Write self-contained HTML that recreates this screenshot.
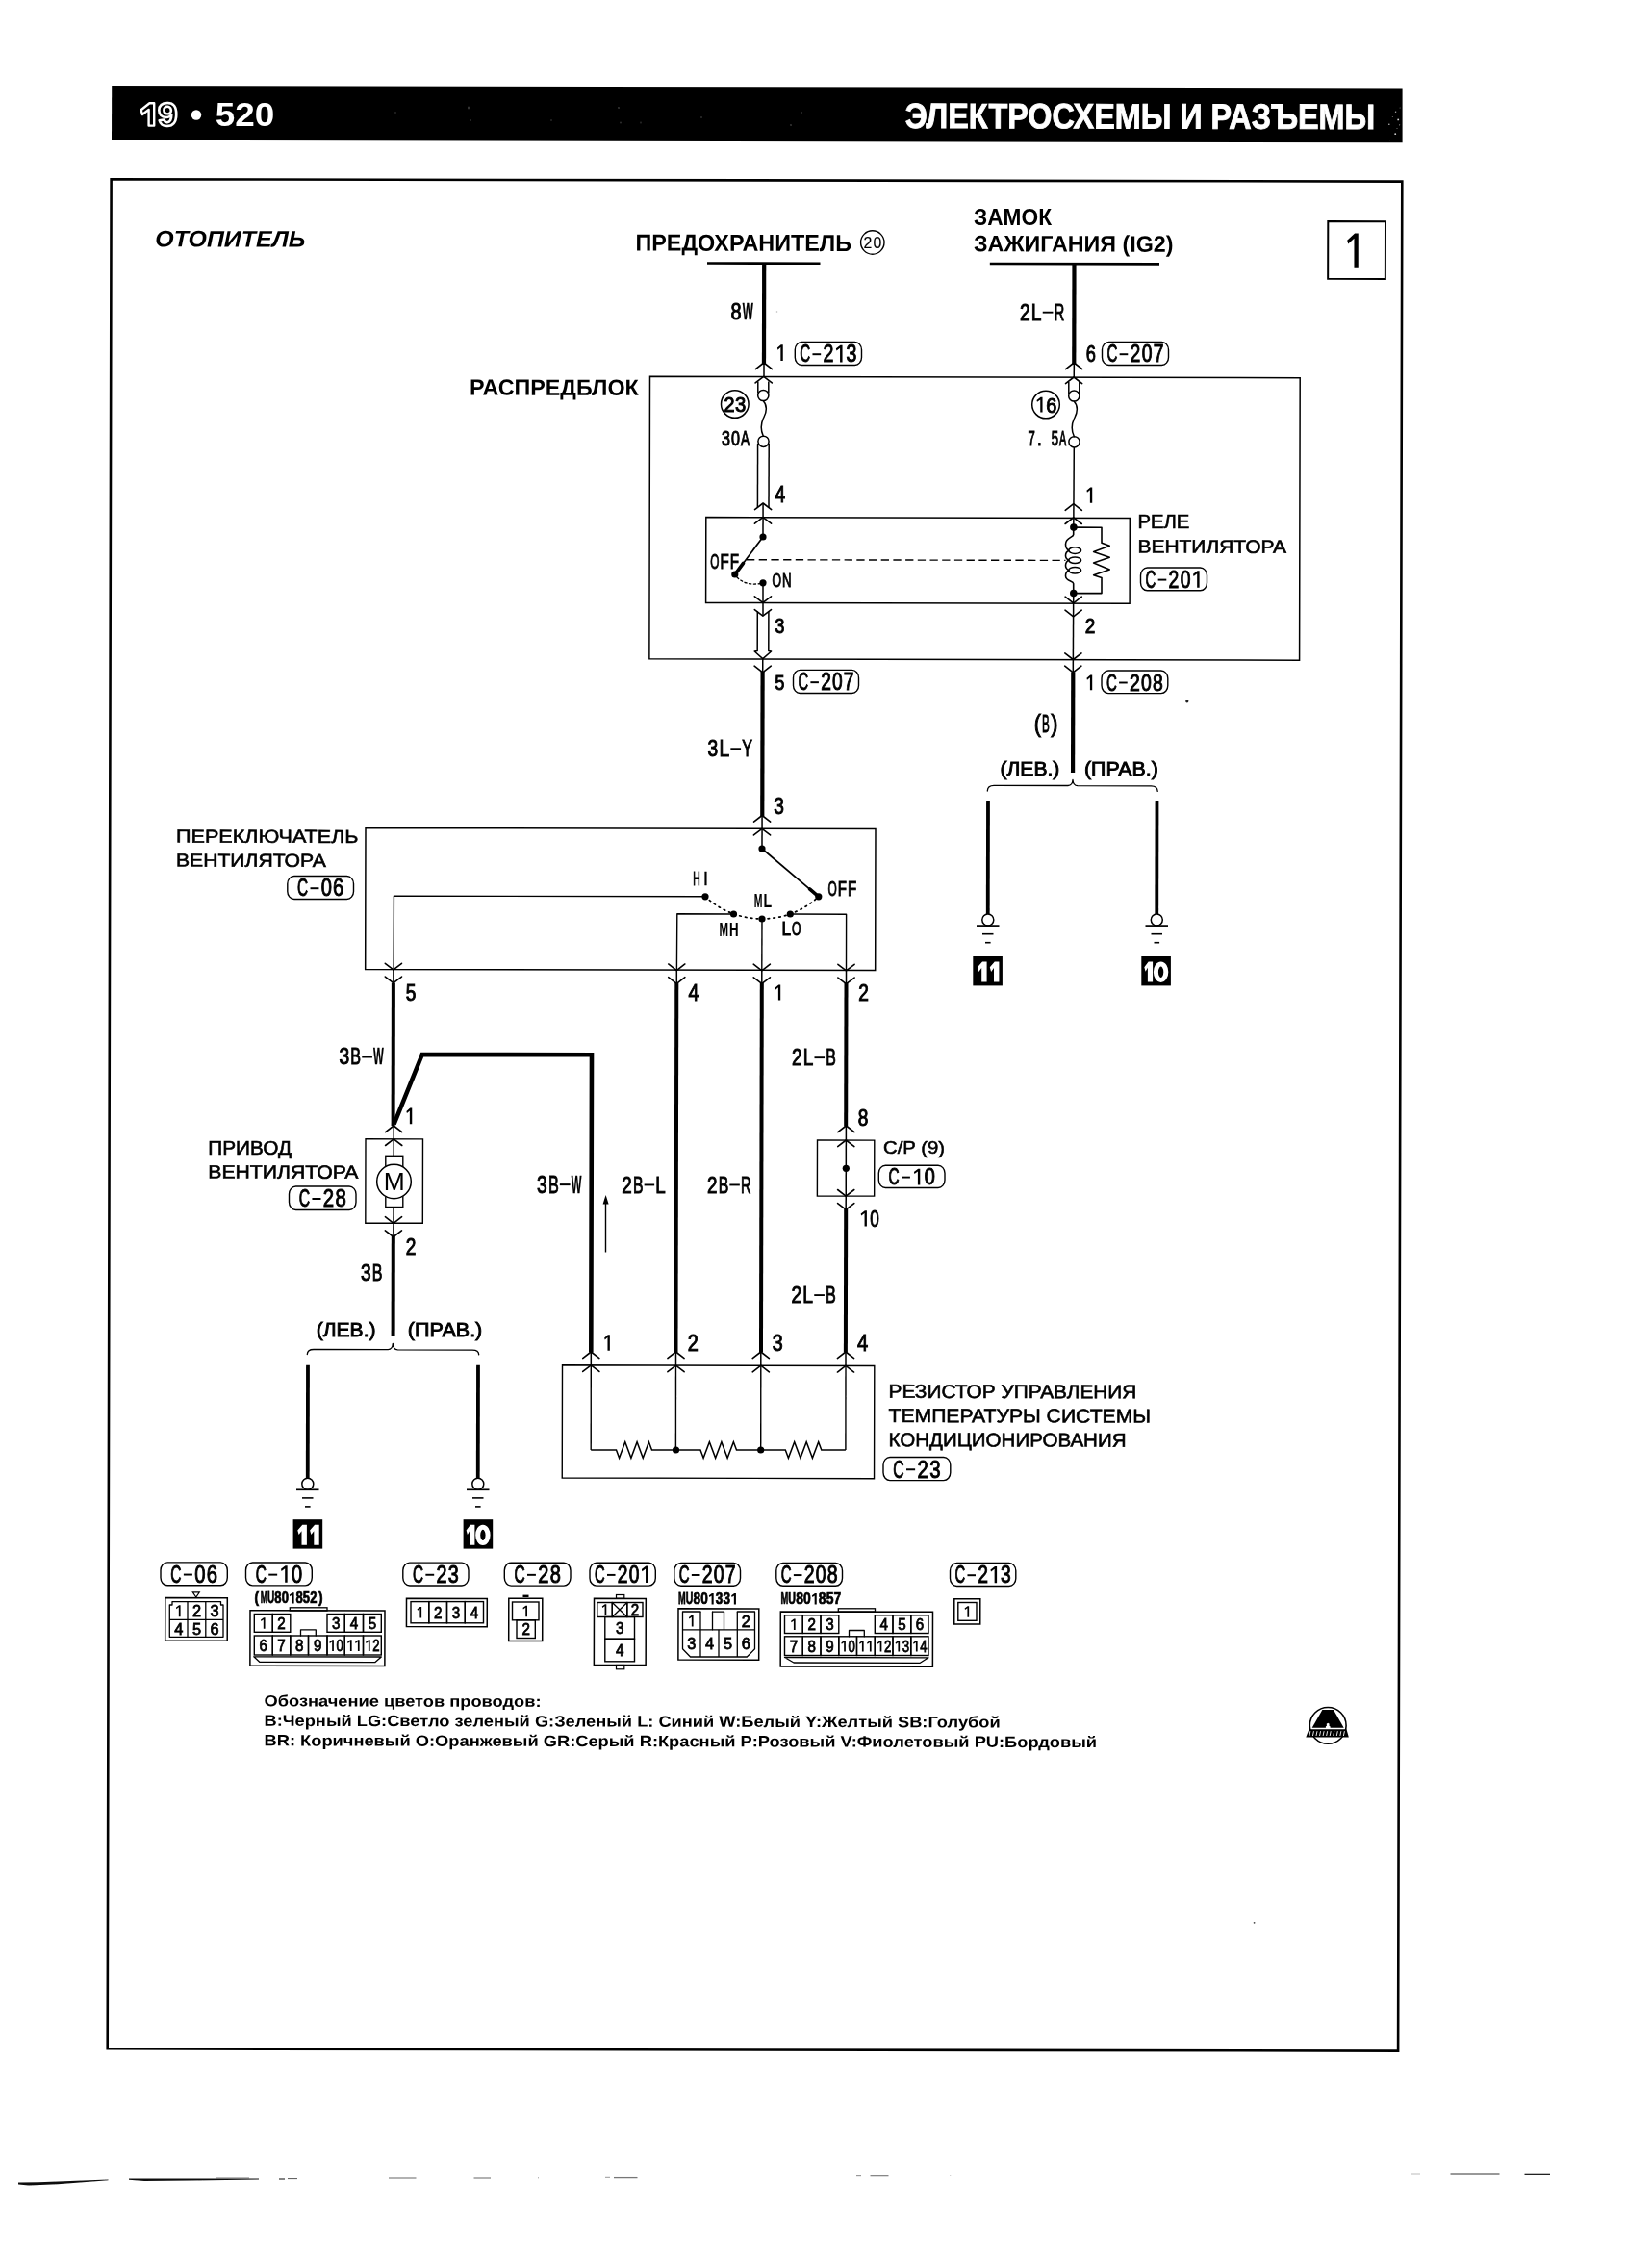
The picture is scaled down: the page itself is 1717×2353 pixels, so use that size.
<!DOCTYPE html>
<html lang="ru"><head><meta charset="utf-8"><title>19-520</title>
<style>html,body{margin:0;padding:0;background:#fff}svg{display:block}text{font-family:'Liberation Sans', sans-serif;white-space:pre}</style></head>
<body>
<svg width="1717" height="2353" viewBox="0 0 1717 2353">
<defs><filter id="soft" filterUnits="userSpaceOnUse" x="0" y="0" width="1717" height="2353"><feGaussianBlur stdDeviation="0.35"/></filter></defs>
<rect width="1717" height="2353" fill="#fff"/>
<g filter="url(#soft)">
<polygon points="116.2,89 1457.6,91.4 1457.6,148.3 116,145.8" fill="#030303"/>
<circle cx="1450.6" cy="116.2" r="0.7" fill="#aaa"/>
<circle cx="1453.2" cy="124.4" r="0.9" fill="#ddd"/>
<circle cx="1443.8" cy="129.3" r="0.8" fill="#bbb"/>
<circle cx="1450.2" cy="139.2" r="0.9" fill="#ccc"/>
<circle cx="1454.6" cy="129.8" r="0.6" fill="#999"/>
<circle cx="1447.3" cy="121.5" r="0.5" fill="#888"/>
<circle cx="1452" cy="133.6" r="0.5" fill="#888"/>
<circle cx="1444.2" cy="145.6" r="0.6" fill="#999"/>
<circle cx="1455.1" cy="112" r="0.5" fill="#777"/>
<circle cx="411" cy="117" r="1" fill="#2a2a2a"/>
<circle cx="487" cy="112" r="1.2" fill="#333"/>
<circle cx="489" cy="125" r="1" fill="#2c2c2c"/>
<circle cx="573" cy="125" r="0.9" fill="#2a2a2a"/>
<circle cx="643" cy="112" r="1.1" fill="#333"/>
<circle cx="645" cy="127.5" r="1" fill="#303030"/>
<circle cx="666" cy="127.5" r="0.9" fill="#2a2a2a"/>
<circle cx="729" cy="122" r="1" fill="#2e2e2e"/>
<circle cx="822" cy="130" r="1.1" fill="#333"/>
<circle cx="833" cy="117" r="1" fill="#2c2c2c"/>
<polygon points="160.2,107.2 160.2,130.6 154.6,130.6 154.6,113.85 147.97,119.01 146.64,114.22 155.44,107.2" fill="#000" stroke="#fff" stroke-width="2.4" stroke-linejoin="round"/>
<text x="164" y="130.8" font-size="34.2" font-weight="bold" textLength="20.6" lengthAdjust="spacingAndGlyphs" fill="#000" stroke="#fff" stroke-width="2.4" stroke-linejoin="round">9</text>
<circle cx="204" cy="119.5" r="5.2" fill="#fff"/>
<text x="223.7" y="131.3" font-size="35.5" font-weight="bold" textLength="61.5" lengthAdjust="spacingAndGlyphs" fill="#fff">520</text>
<text x="940.8" y="133" font-size="36.63" font-weight="bold" textLength="488.4" lengthAdjust="spacingAndGlyphs" fill="#fff" stroke="#fff" stroke-width="0.9" transform="rotate(0.12 940.8 133)">ЭЛЕКТРОСХЕМЫ И РАЗЪЕМЫ</text>
<polygon points="115.6,186.2 1457.3,188.6 1453.1,2131.6 111.7,2129.3" fill="none" stroke="#000" stroke-width="2.6"/>
<text x="161.3" y="256.3" font-size="23.69" font-weight="bold" font-style="italic" textLength="156.2" lengthAdjust="spacingAndGlyphs" fill="#000" transform="rotate(0.12 161.3 256.3)">ОТОПИТЕЛЬ</text>
<text x="660.5" y="260.5" font-size="24.27" font-weight="bold" textLength="224.5" lengthAdjust="spacingAndGlyphs" fill="#000" transform="rotate(0.12 660.5 260.5)">ПРЕДОХРАНИТЕЛЬ</text>
<circle cx="906.8" cy="252" r="12.2" fill="none" stroke="#000" stroke-width="1.4"/>
<text transform="translate(901.9,258) scale(0.95,1)" text-anchor="middle" font-size="16.67" fill="#000" stroke="#000" stroke-width="0.15">2</text>
<text transform="translate(911.9,258) scale(0.95,1)" text-anchor="middle" font-size="16.67" fill="#000" stroke="#000" stroke-width="0.15">0</text>
<text x="1012" y="233.8" font-size="23.69" font-weight="bold" textLength="81" lengthAdjust="spacingAndGlyphs" fill="#000">ЗАМОК</text>
<text x="1012" y="261.3" font-size="23.69" font-weight="bold" textLength="207.5" lengthAdjust="spacingAndGlyphs" fill="#000" transform="rotate(0.12 1012 261.3)">ЗАЖИГАНИЯ (IG2)</text>
<text x="488" y="410.5" font-size="23.26" font-weight="bold" textLength="175.8" lengthAdjust="spacingAndGlyphs" fill="#000" transform="rotate(0.12 488 410.5)">РАСПРЕДБЛОК</text>
<polygon points="1380.3,230 1440,230.13 1439.87,289.93 1380.17,289.8" fill="none" stroke="#000" stroke-width="2" stroke-linejoin="miter"/>
<polygon points="1411.75,242.6 1411.75,278.8 1407.45,278.8 1407.45,247.71 1401.23,253.52 1400.21,249.84 1408.09,242.6" fill="#000"/>
<polygon points="675.5,391.3 1351.2,392.72 1350.58,686.22 674.88,684.8" fill="none" stroke="#000" stroke-width="1.5" stroke-linejoin="miter"/>
<line x1="735" y1="273.5" x2="852.5" y2="273.75" stroke="#000" stroke-width="2.6" stroke-linecap="butt"/>
<line x1="794.2" y1="273.5" x2="793.98" y2="379" stroke="#000" stroke-width="4.2" stroke-linecap="butt"/>
<line x1="794" y1="378" x2="793.97" y2="391.5" stroke="#000" stroke-width="1.5" stroke-linecap="butt"/>
<text transform="translate(765.08,332) scale(0.83,1)" text-anchor="middle" font-size="24.01" fill="#000" stroke="#000" stroke-width="1">8</text>
<text transform="translate(777.42,332) scale(0.49,1)" text-anchor="middle" font-size="24.01" font-weight="bold" fill="#000" stroke="#000" stroke-width="0.35">W</text>
<polygon points="813.75,358.25 813.75,375 811.36,375 811.36,361.09 808.46,363.64 807.9,361.6 811.72,358.25" fill="#000"/>
<rect x="826.3" y="355.5" width="69.2" height="24" rx="7" ry="8" fill="none" stroke="#000" stroke-width="1.4"/>
<text transform="translate(836.74,376.4) scale(0.6,1)" text-anchor="middle" font-size="25.14" fill="#000" stroke="#000" stroke-width="1">C</text>
<line x1="844.47" y1="368.21" x2="853.17" y2="368.21" stroke="#000" stroke-width="1.96" stroke-linecap="butt"/>
<text transform="translate(860.9,376.4) scale(0.78,1)" text-anchor="middle" font-size="25.14" fill="#000" stroke="#000" stroke-width="1">2</text>
<polygon points="875.54,358.87 875.54,376.4 873.07,376.4 873.07,361.8 869.45,364.48 868.86,362.37 873.44,358.87" fill="#000"/>
<text transform="translate(885.06,376.4) scale(0.78,1)" text-anchor="middle" font-size="25.14" fill="#000" stroke="#000" stroke-width="1">3</text>
<path d="M785.3,383.6 L793.9,377 L802.5,383.6" fill="none" stroke="#000" stroke-width="1.6" stroke-linejoin="round" stroke-linecap="round"/>
<path d="M785.1,397.9 L793.7,391.3 L802.3,397.9" fill="none" stroke="#000" stroke-width="1.6" stroke-linejoin="round" stroke-linecap="round"/>
<line x1="787.8" y1="396.5" x2="787.8" y2="408.5" stroke="#000" stroke-width="1.5" stroke-linecap="butt"/>
<line x1="798.8" y1="396.5" x2="798.8" y2="408.5" stroke="#000" stroke-width="1.5" stroke-linecap="butt"/>
<circle cx="793.3" cy="411" r="5.6" fill="#fff" stroke="#000" stroke-width="1.5"/>
<path d="M793.3,416.8 C797.5,421 797,428 794,433.5 C790.5,440 790.5,447 793.3,453.2" fill="none" stroke="#000" stroke-width="1.5" stroke-linejoin="round" stroke-linecap="round"/>
<line x1="787.6" y1="461" x2="787.4" y2="527.3" stroke="#000" stroke-width="1.5" stroke-linecap="butt"/>
<line x1="799.2" y1="461" x2="799" y2="527.3" stroke="#000" stroke-width="1.5" stroke-linecap="butt"/>
<circle cx="793.5" cy="458.8" r="5.6" fill="#fff" stroke="#000" stroke-width="1.5"/>
<circle cx="763.8" cy="420" r="14.3" fill="none" stroke="#000" stroke-width="1.5"/>
<text transform="translate(757.83,428) scale(0.9,1)" text-anchor="middle" font-size="22.6" fill="#000" stroke="#000" stroke-width="1">2</text>
<text transform="translate(769.67,428) scale(0.9,1)" text-anchor="middle" font-size="22.6" fill="#000" stroke="#000" stroke-width="1">3</text>
<text transform="translate(754.4,462.5) scale(0.76,1)" text-anchor="middle" font-size="21.19" fill="#000" stroke="#000" stroke-width="1">3</text>
<text transform="translate(764.4,462.5) scale(0.76,1)" text-anchor="middle" font-size="21.19" fill="#000" stroke="#000" stroke-width="1">0</text>
<text transform="translate(774.4,462.5) scale(0.64,1)" text-anchor="middle" font-size="21.19" fill="#000" stroke="#000" stroke-width="1">A</text>
<path d="M784.5,529.6 L793.1,523 L801.7,529.6" fill="none" stroke="#000" stroke-width="1.6" stroke-linejoin="round" stroke-linecap="round"/>
<text transform="translate(810.65,522) scale(0.82,1)" text-anchor="middle" font-size="24.01" fill="#000" stroke="#000" stroke-width="1">4</text>
<polygon points="733.8,537.6 1174.3,538.53 1174.11,627.33 733.61,626.4" fill="none" stroke="#000" stroke-width="1.5" stroke-linejoin="miter"/>
<path d="M784.4,544.2 L793,537.6 L801.6,544.2" fill="none" stroke="#000" stroke-width="1.6" stroke-linejoin="round" stroke-linecap="round"/>
<line x1="793.1" y1="523" x2="793" y2="558" stroke="#000" stroke-width="1.5" stroke-linecap="butt"/>
<circle cx="793" cy="558" r="3.6" fill="#000"/>
<line x1="793" y1="558" x2="763.8" y2="597" stroke="#000" stroke-width="1.7" stroke-linecap="butt"/>
<line x1="772.5" y1="585.4" x2="765.5" y2="594.8" stroke="#000" stroke-width="3.6" stroke-linecap="round"/>
<circle cx="763.8" cy="597" r="3.6" fill="#000"/>
<text transform="translate(742.85,590.5) scale(0.54,1)" text-anchor="middle" font-size="21.89" fill="#000" stroke="#000" stroke-width="1">O</text>
<text transform="translate(753.15,590.5) scale(0.69,1)" text-anchor="middle" font-size="21.89" fill="#000" stroke="#000" stroke-width="1">F</text>
<text transform="translate(763.45,590.5) scale(0.69,1)" text-anchor="middle" font-size="21.89" fill="#000" stroke="#000" stroke-width="1">F</text>
<line x1="776" y1="581.7" x2="1107.5" y2="582.4" stroke="#000" stroke-width="1.4" stroke-linecap="butt" stroke-dasharray="8.3 4.4"/>
<path d="M766,600 Q775,609 790,606.5" fill="none" stroke="#000" stroke-width="1.3" stroke-linejoin="round" stroke-linecap="round" stroke-dasharray="2.2 2.6"/>
<circle cx="793" cy="605.8" r="3.6" fill="#000"/>
<text transform="translate(807.2,610) scale(0.61,1)" text-anchor="middle" font-size="20.06" fill="#000" stroke="#000" stroke-width="1">O</text>
<text transform="translate(817.8,610) scale(0.66,1)" text-anchor="middle" font-size="20.06" fill="#000" stroke="#000" stroke-width="1">N</text>
<line x1="793" y1="605.8" x2="793" y2="640" stroke="#000" stroke-width="1.5" stroke-linecap="butt"/>
<path d="M784.3,619.8 L792.9,626.4 L801.5,619.8" fill="none" stroke="#000" stroke-width="1.6" stroke-linejoin="round" stroke-linecap="round"/>
<path d="M784.3,633.6 L792.9,640.2 L801.5,633.6" fill="none" stroke="#000" stroke-width="1.6" stroke-linejoin="round" stroke-linecap="round"/>
<path d="M787.3,636 L787.2,676.5 L784.2,677 L792.8,684.6 L801.6,677 L798.8,676.5 L798.9,636" fill="none" stroke="#000" stroke-width="1.5" stroke-linejoin="round" stroke-linecap="round"/>
<text transform="translate(810.25,657.5) scale(0.8,1)" text-anchor="middle" font-size="22.88" fill="#000" stroke="#000" stroke-width="1">3</text>
<line x1="792.8" y1="684.6" x2="792.7" y2="699" stroke="#000" stroke-width="1.5" stroke-linecap="butt"/>
<path d="M784.1,692.2 L792.7,698.8 L801.3,692.2" fill="none" stroke="#000" stroke-width="1.6" stroke-linejoin="round" stroke-linecap="round"/>
<line x1="792.6" y1="698" x2="792.28" y2="848" stroke="#000" stroke-width="4.2" stroke-linecap="butt"/>
<text transform="translate(810.25,716.5) scale(0.81,1)" text-anchor="middle" font-size="22.6" fill="#000" stroke="#000" stroke-width="1">5</text>
<rect x="824.5" y="696.4" width="68" height="24.1" rx="7" ry="8" fill="none" stroke="#000" stroke-width="1.4"/>
<text transform="translate(834.82,717.4) scale(0.58,1)" text-anchor="middle" font-size="25.28" fill="#000" stroke="#000" stroke-width="1">C</text>
<line x1="842.4" y1="709.17" x2="850.92" y2="709.17" stroke="#000" stroke-width="1.97" stroke-linecap="butt"/>
<text transform="translate(858.5,717.4) scale(0.76,1)" text-anchor="middle" font-size="25.28" fill="#000" stroke="#000" stroke-width="1">2</text>
<text transform="translate(870.34,717.4) scale(0.76,1)" text-anchor="middle" font-size="25.28" fill="#000" stroke="#000" stroke-width="1">0</text>
<text transform="translate(882.18,717.4) scale(0.76,1)" text-anchor="middle" font-size="25.28" fill="#000" stroke="#000" stroke-width="1">7</text>
<text transform="translate(740.86,786.3) scale(0.78,1)" text-anchor="middle" font-size="24.72" fill="#000" stroke="#000" stroke-width="1">3</text>
<text transform="translate(752.79,786.3) scale(0.78,1)" text-anchor="middle" font-size="24.72" fill="#000" stroke="#000" stroke-width="1">L</text>
<line x1="759.35" y1="778.25" x2="770.08" y2="778.25" stroke="#000" stroke-width="1.93" stroke-linecap="butt"/>
<text transform="translate(776.64,786.3) scale(0.65,1)" text-anchor="middle" font-size="24.72" fill="#000" stroke="#000" stroke-width="1">Y</text>
<text transform="translate(809.5,845.8) scale(0.83,1)" text-anchor="middle" font-size="23.02" fill="#000" stroke="#000" stroke-width="1">3</text>
<line x1="1028.8" y1="274" x2="1205" y2="274.37" stroke="#000" stroke-width="2.6" stroke-linecap="butt"/>
<line x1="1116.5" y1="274" x2="1116.28" y2="379" stroke="#000" stroke-width="4.2" stroke-linecap="butt"/>
<line x1="1116.3" y1="378" x2="1116.27" y2="392.2" stroke="#000" stroke-width="1.5" stroke-linecap="butt"/>
<text transform="translate(1065.34,332.5) scale(0.8,1)" text-anchor="middle" font-size="24.01" fill="#000" stroke="#000" stroke-width="1">2</text>
<text transform="translate(1077.21,332.5) scale(0.8,1)" text-anchor="middle" font-size="24.01" fill="#000" stroke="#000" stroke-width="1">L</text>
<line x1="1083.74" y1="324.68" x2="1094.43" y2="324.68" stroke="#000" stroke-width="1.87" stroke-linecap="butt"/>
<text transform="translate(1100.96,332.5) scale(0.62,1)" text-anchor="middle" font-size="24.01" fill="#000" stroke="#000" stroke-width="1">R</text>
<text transform="translate(1133.75,375.5) scale(0.76,1)" text-anchor="middle" font-size="24.01" fill="#000" stroke="#000" stroke-width="1">6</text>
<rect x="1145.5" y="355.5" width="69" height="24" rx="7" ry="8" fill="none" stroke="#000" stroke-width="1.4"/>
<text transform="translate(1155.92,376.4) scale(0.6,1)" text-anchor="middle" font-size="25.14" fill="#000" stroke="#000" stroke-width="1">C</text>
<line x1="1163.63" y1="368.21" x2="1172.29" y2="368.21" stroke="#000" stroke-width="1.96" stroke-linecap="butt"/>
<text transform="translate(1180,376.4) scale(0.77,1)" text-anchor="middle" font-size="25.14" fill="#000" stroke="#000" stroke-width="1">2</text>
<text transform="translate(1192.04,376.4) scale(0.77,1)" text-anchor="middle" font-size="25.14" fill="#000" stroke="#000" stroke-width="1">0</text>
<text transform="translate(1204.08,376.4) scale(0.77,1)" text-anchor="middle" font-size="25.14" fill="#000" stroke="#000" stroke-width="1">7</text>
<path d="M1107.6,383.6 L1116.2,377 L1124.8,383.6" fill="none" stroke="#000" stroke-width="1.6" stroke-linejoin="round" stroke-linecap="round"/>
<path d="M1107.5,398.6 L1116.1,392 L1124.7,398.6" fill="none" stroke="#000" stroke-width="1.6" stroke-linejoin="round" stroke-linecap="round"/>
<line x1="1110.8" y1="397" x2="1110.8" y2="409" stroke="#000" stroke-width="1.5" stroke-linecap="butt"/>
<line x1="1121.8" y1="397" x2="1121.8" y2="409" stroke="#000" stroke-width="1.5" stroke-linecap="butt"/>
<circle cx="1116.3" cy="411.5" r="5.6" fill="#fff" stroke="#000" stroke-width="1.5"/>
<path d="M1116.3,417.3 C1120.5,421.5 1120,428.5 1117,434 C1113.5,440.5 1113.5,447.5 1116.4,453.7" fill="none" stroke="#000" stroke-width="1.5" stroke-linejoin="round" stroke-linecap="round"/>
<circle cx="1116.5" cy="459.3" r="5.6" fill="none" stroke="#000" stroke-width="1.5"/>
<circle cx="1087" cy="420.5" r="14.3" fill="none" stroke="#000" stroke-width="1.5"/>
<polygon points="1083.53,412.74 1083.53,428.5 1081.25,428.5 1081.25,415.45 1078.01,417.84 1077.47,415.89 1081.59,412.74" fill="#000"/>
<text transform="translate(1092.8,428.5) scale(0.88,1)" text-anchor="middle" font-size="22.6" fill="#000" stroke="#000" stroke-width="1">6</text>
<text transform="translate(1072.24,463) scale(0.62,1)" text-anchor="middle" font-size="21.19" fill="#000" stroke="#000" stroke-width="1">7</text>
<text transform="translate(1080.32,463) scale(0.8,1)" text-anchor="middle" font-size="21.19" fill="#000" stroke="#000" stroke-width="1">.</text>
<text transform="translate(1096.48,463) scale(0.62,1)" text-anchor="middle" font-size="21.19" fill="#000" stroke="#000" stroke-width="1">5</text>
<text transform="translate(1104.56,463) scale(0.51,1)" text-anchor="middle" font-size="21.19" fill="#000" stroke="#000" stroke-width="1">A</text>
<line x1="1116.3" y1="465" x2="1115.8" y2="548" stroke="#000" stroke-width="1.5" stroke-linecap="butt"/>
<polygon points="1135.22,506.55 1135.22,522.8 1132.89,522.8 1132.89,509.32 1129.98,511.79 1129.42,509.8 1133.24,506.55" fill="#000"/>
<path d="M1107.2,530.3 L1115.8,523.7 L1124.4,530.3" fill="none" stroke="#000" stroke-width="1.6" stroke-linejoin="round" stroke-linecap="round"/>
<path d="M1107.1,544.5 L1115.7,537.9 L1124.3,544.5" fill="none" stroke="#000" stroke-width="1.6" stroke-linejoin="round" stroke-linecap="round"/>
<circle cx="1115.9" cy="548.1" r="3.8" fill="#000"/>
<path d="M1115.9,548.1 L1145,548.2 L1145,564.3 L1153.3,567.2 L1136.6,573.4 L1153.3,579.2 L1136.6,585 L1153.3,591.9 L1136.6,597.7 L1145,600.6 L1145,616.6 L1115.8,616.6" fill="none" stroke="#000" stroke-width="1.6" stroke-linejoin="round" stroke-linecap="round"/>
<path d="M1115.7,548 L1115.7,555.6 C1115.5,558.5 1107.5,559 1107.5,565.5 C1107.5,569 1109,571.2 1111,572.2 C1108,573.5 1107.5,576 1107.5,577.5 C1107.5,580 1109,581.5 1111,582.3 C1108,583.6 1107.5,586 1107.5,587.8 C1107.5,590.3 1109,591.8 1111,592.7 C1108,594 1107.5,596.5 1107.5,598.5 C1107.5,604.5 1115.5,603.5 1115.7,606.5 L1115.7,616.6" fill="none" stroke="#000" stroke-width="1.6" stroke-linejoin="round" stroke-linecap="round"/>
<ellipse cx="1117.2" cy="572.1" rx="6.4" ry="3.3" fill="none" stroke="#000" stroke-width="1.5"/>
<ellipse cx="1117.2" cy="582.2" rx="6.4" ry="3.3" fill="none" stroke="#000" stroke-width="1.5"/>
<ellipse cx="1117.2" cy="592.7" rx="6.4" ry="3.3" fill="none" stroke="#000" stroke-width="1.5"/>
<circle cx="1115.8" cy="616.6" r="3.8" fill="#000"/>
<line x1="1115.7" y1="616.6" x2="1115.3" y2="699" stroke="#000" stroke-width="1.5" stroke-linecap="butt"/>
<path d="M1107.1,620.2 L1115.7,626.8 L1124.3,620.2" fill="none" stroke="#000" stroke-width="1.6" stroke-linejoin="round" stroke-linecap="round"/>
<path d="M1107,634.2 L1115.6,640.8 L1124.2,634.2" fill="none" stroke="#000" stroke-width="1.6" stroke-linejoin="round" stroke-linecap="round"/>
<text transform="translate(1133,658.2) scale(0.83,1)" text-anchor="middle" font-size="22.88" fill="#000" stroke="#000" stroke-width="1">2</text>
<path d="M1106.8,678.9 L1115.4,685.5 L1124,678.9" fill="none" stroke="#000" stroke-width="1.6" stroke-linejoin="round" stroke-linecap="round"/>
<path d="M1106.7,692.2 L1115.3,698.8 L1123.9,692.2" fill="none" stroke="#000" stroke-width="1.6" stroke-linejoin="round" stroke-linecap="round"/>
<text x="1182.5" y="548.8" font-size="19.33" textLength="53.8" lengthAdjust="spacingAndGlyphs" fill="#000" stroke="#000" stroke-width="0.6">РЕЛЕ</text>
<text x="1182.5" y="574.5" font-size="19.19" textLength="154.5" lengthAdjust="spacingAndGlyphs" fill="#000" stroke="#000" stroke-width="0.6" transform="rotate(0.12 1182.5 574.5)">ВЕНТИЛЯТОРА</text>
<rect x="1185.5" y="590" width="69" height="23.8" rx="7" ry="8" fill="none" stroke="#000" stroke-width="1.4"/>
<text transform="translate(1195.92,610.7) scale(0.6,1)" text-anchor="middle" font-size="24.86" fill="#000" stroke="#000" stroke-width="1">C</text>
<line x1="1203.63" y1="602.6" x2="1212.29" y2="602.6" stroke="#000" stroke-width="1.94" stroke-linecap="butt"/>
<text transform="translate(1220,610.7) scale(0.78,1)" text-anchor="middle" font-size="24.86" fill="#000" stroke="#000" stroke-width="1">2</text>
<text transform="translate(1232.04,610.7) scale(0.78,1)" text-anchor="middle" font-size="24.86" fill="#000" stroke="#000" stroke-width="1">0</text>
<polygon points="1246.61,593.36 1246.61,610.7 1244.17,610.7 1244.17,596.27 1240.59,598.92 1240,596.83 1244.53,593.36" fill="#000"/>
<line x1="1115.3" y1="698.5" x2="1115.08" y2="803" stroke="#000" stroke-width="4.2" stroke-linecap="butt"/>
<polygon points="1135.2,701.54 1135.2,717.3 1132.92,717.3 1132.92,704.25 1129.99,706.64 1129.45,704.69 1133.26,701.54" fill="#000"/>
<rect x="1145" y="697" width="68.8" height="23.6" rx="7" ry="8" fill="none" stroke="#000" stroke-width="1.4"/>
<text transform="translate(1155.4,717.5) scale(0.61,1)" text-anchor="middle" font-size="24.58" fill="#000" stroke="#000" stroke-width="1">C</text>
<line x1="1163.08" y1="709.5" x2="1171.72" y2="709.5" stroke="#000" stroke-width="1.91" stroke-linecap="butt"/>
<text transform="translate(1179.4,717.5) scale(0.79,1)" text-anchor="middle" font-size="24.58" fill="#000" stroke="#000" stroke-width="1">2</text>
<text transform="translate(1191.4,717.5) scale(0.79,1)" text-anchor="middle" font-size="24.58" fill="#000" stroke="#000" stroke-width="1">0</text>
<text transform="translate(1203.4,717.5) scale(0.79,1)" text-anchor="middle" font-size="24.58" fill="#000" stroke="#000" stroke-width="1">8</text>
<text transform="translate(1078.27,760.5) scale(0.85,1)" text-anchor="middle" font-size="25.42" fill="#000" stroke="#000" stroke-width="1">(</text>
<text transform="translate(1087,760.5) scale(0.46,1)" text-anchor="middle" font-size="25.42" fill="#000" stroke="#000" stroke-width="1">B</text>
<text transform="translate(1095.73,760.5) scale(0.85,1)" text-anchor="middle" font-size="25.42" fill="#000" stroke="#000" stroke-width="1">)</text>
<text x="1039.5" y="806.3" font-size="19.33" textLength="61.8" lengthAdjust="spacingAndGlyphs" fill="#000" stroke="#000" stroke-width="0.85">(ЛЕВ.)</text>
<text x="1127" y="806.3" font-size="19.33" textLength="76.8" lengthAdjust="spacingAndGlyphs" fill="#000" stroke="#000" stroke-width="0.85">(ПРАВ.)</text>
<path d="M1026.3,822 Q1026.5,816.3 1033,816.3 L1110,816.5 Q1114.7,816.3 1115,810.5 Q1115.3,816.5 1120,816.7 L1196.5,816.9 Q1203,816.9 1203.2,822.4" fill="none" stroke="#000" stroke-width="1.3" stroke-linejoin="round" stroke-linecap="round"/>
<line x1="1027" y1="832.5" x2="1026.75" y2="950" stroke="#000" stroke-width="3.8" stroke-linecap="butt"/>
<circle cx="1026.8" cy="956" r="6" fill="#fff" stroke="#000" stroke-width="1.5"/>
<line x1="1015" y1="962.1" x2="1038.5" y2="962.1" stroke="#000" stroke-width="1.7" stroke-linecap="butt"/>
<line x1="1021" y1="970.7" x2="1032.5" y2="970.7" stroke="#000" stroke-width="1.6" stroke-linecap="butt"/>
<line x1="1024" y1="979.7" x2="1029.6" y2="979.7" stroke="#000" stroke-width="1.6" stroke-linecap="butt"/>
<line x1="1202.5" y1="832.5" x2="1202.25" y2="950" stroke="#000" stroke-width="3.8" stroke-linecap="butt"/>
<circle cx="1202.3" cy="956" r="6" fill="#fff" stroke="#000" stroke-width="1.5"/>
<line x1="1190.5" y1="962.1" x2="1214" y2="962.1" stroke="#000" stroke-width="1.7" stroke-linecap="butt"/>
<line x1="1196.5" y1="970.7" x2="1208" y2="970.7" stroke="#000" stroke-width="1.6" stroke-linecap="butt"/>
<line x1="1199.5" y1="979.7" x2="1205.1" y2="979.7" stroke="#000" stroke-width="1.6" stroke-linecap="butt"/>
<rect x="1011.3" y="994" width="30.6" height="30.4" fill="#000"/>
<polygon points="1025.6,999.6 1025.6,1020.6 1020.2,1020.6 1020.2,1006.01 1017.28,1009.89 1016,1005.27 1021.01,999.6" fill="#fff"/>
<polygon points="1038.4,999.6 1038.4,1020.6 1033,1020.6 1033,1006.01 1030.08,1009.89 1028.8,1005.27 1033.81,999.6" fill="#fff"/>
<rect x="1186.3" y="994" width="30.6" height="30.4" fill="#000"/>
<polygon points="1198.1,999.6 1198.1,1020.6 1192.9,1020.6 1192.9,1005.77 1190.57,1009.72 1189.33,1005.27 1193.68,999.6" fill="#fff"/>
<ellipse cx="1206.6" cy="1010.2" rx="5.2" ry="8.2" fill="none" stroke="#fff" stroke-width="5"/>
<circle cx="1233.8" cy="728.8" r="1.6" fill="#222"/>
<circle cx="1303.6" cy="1998.8" r="0.9" fill="#444"/>
<circle cx="807.5" cy="324" r="0.8" fill="#bbb"/>
<text x="183" y="875.6" font-size="19.04" textLength="189.5" lengthAdjust="spacingAndGlyphs" fill="#000" stroke="#000" stroke-width="0.6" transform="rotate(0.12 183 875.6)">ПЕРЕКЛЮЧАТЕЛЬ</text>
<text x="183" y="900.6" font-size="19.04" textLength="155.8" lengthAdjust="spacingAndGlyphs" fill="#000" stroke="#000" stroke-width="0.6" transform="rotate(0.12 183 900.6)">ВЕНТИЛЯТОРА</text>
<rect x="298.8" y="910.5" width="68.7" height="24" rx="7" ry="8" fill="none" stroke="#000" stroke-width="1.4"/>
<text transform="translate(314.59,931.4) scale(0.61,1)" text-anchor="middle" font-size="25.14" fill="#000" stroke="#000" stroke-width="1">C</text>
<line x1="322.51" y1="923.21" x2="331.42" y2="923.21" stroke="#000" stroke-width="1.96" stroke-linecap="butt"/>
<text transform="translate(339.34,931.4) scale(0.8,1)" text-anchor="middle" font-size="25.14" fill="#000" stroke="#000" stroke-width="1">0</text>
<text transform="translate(351.71,931.4) scale(0.8,1)" text-anchor="middle" font-size="25.14" fill="#000" stroke="#000" stroke-width="1">6</text>
<polygon points="380,860.5 910,861.61 909.69,1008.51 379.69,1007.4" fill="none" stroke="#000" stroke-width="1.5" stroke-linejoin="miter"/>
<path d="M783.5,854.1 L792.1,847.5 L800.7,854.1" fill="none" stroke="#000" stroke-width="1.6" stroke-linejoin="round" stroke-linecap="round"/>
<path d="M783.4,867.9 L792,861.3 L800.6,867.9" fill="none" stroke="#000" stroke-width="1.6" stroke-linejoin="round" stroke-linecap="round"/>
<line x1="792.1" y1="847" x2="792" y2="882" stroke="#000" stroke-width="1.5" stroke-linecap="butt"/>
<circle cx="792" cy="882" r="3.6" fill="#000"/>
<line x1="792" y1="882" x2="850.8" y2="931.8" stroke="#000" stroke-width="1.7" stroke-linecap="butt"/>
<line x1="841.5" y1="923.8" x2="848.5" y2="929.8" stroke="#000" stroke-width="3.6" stroke-linecap="round"/>
<circle cx="850.8" cy="931.8" r="3.6" fill="#000"/>
<text transform="translate(865.02,931.3) scale(0.56,1)" text-anchor="middle" font-size="21.19" fill="#000" stroke="#000" stroke-width="1">O</text>
<text transform="translate(875.25,931.3) scale(0.71,1)" text-anchor="middle" font-size="21.19" fill="#000" stroke="#000" stroke-width="1">F</text>
<text transform="translate(885.48,931.3) scale(0.71,1)" text-anchor="middle" font-size="21.19" fill="#000" stroke="#000" stroke-width="1">F</text>
<text transform="translate(724.08,919.6) scale(0.5,1)" text-anchor="middle" font-size="20.62" fill="#000" stroke="#000" stroke-width="1">H</text>
<text transform="translate(733.42,919.6) scale(0.95,1)" text-anchor="middle" font-size="20.62" fill="#000" stroke="#000" stroke-width="0.3">I</text>
<text transform="translate(788.05,943) scale(0.52,1)" text-anchor="middle" font-size="20.06" font-weight="bold" fill="#000" stroke="#000" stroke-width="0.1">M</text>
<text transform="translate(797.75,943) scale(0.71,1)" text-anchor="middle" font-size="20.06" font-weight="bold" fill="#000" stroke="#000" stroke-width="0.1">L</text>
<text transform="translate(752.2,973.3) scale(0.56,1)" text-anchor="middle" font-size="20.48" font-weight="bold" fill="#000" stroke="#000" stroke-width="0.1">M</text>
<text transform="translate(762.8,973.3) scale(0.65,1)" text-anchor="middle" font-size="20.48" font-weight="bold" fill="#000" stroke="#000" stroke-width="0.1">H</text>
<text transform="translate(817.2,972) scale(0.84,1)" text-anchor="middle" font-size="20.48" fill="#000" stroke="#000" stroke-width="1">L</text>
<text transform="translate(827.8,972) scale(0.6,1)" text-anchor="middle" font-size="20.48" fill="#000" stroke="#000" stroke-width="1">O</text>
<path d="M733,931.76 A86.5,86.5 0 0 0 851,931.76" fill="none" stroke="#000" stroke-width="1.7" stroke-linejoin="round" stroke-linecap="round" stroke-dasharray="1.6 4.3"/>
<circle cx="733" cy="931.8" r="3.6" fill="#000"/>
<circle cx="762.5" cy="950" r="3.6" fill="#000"/>
<circle cx="792" cy="955" r="3.6" fill="#000"/>
<circle cx="821.3" cy="950" r="3.6" fill="#000"/>
<path d="M733,931.8 L409.4,931.2 L409.1,1008" fill="none" stroke="#000" stroke-width="1.4" stroke-linejoin="round" stroke-linecap="round"/>
<path d="M762.5,950 L703.8,949.8 L703.4,1008" fill="none" stroke="#000" stroke-width="1.4" stroke-linejoin="round" stroke-linecap="round"/>
<line x1="792" y1="955" x2="791.8" y2="1008" stroke="#000" stroke-width="1.4" stroke-linecap="butt"/>
<path d="M821.3,950 L879.6,950.2 L879.5,1008" fill="none" stroke="#000" stroke-width="1.4" stroke-linejoin="round" stroke-linecap="round"/>
<path d="M400.3,1001.36 L408.9,1007.96 L417.5,1001.36" fill="none" stroke="#000" stroke-width="1.6" stroke-linejoin="round" stroke-linecap="round"/>
<path d="M400.3,1015.06 L408.9,1021.66 L417.5,1015.06" fill="none" stroke="#000" stroke-width="1.6" stroke-linejoin="round" stroke-linecap="round"/>
<line x1="408.9" y1="1007" x2="408.9" y2="1022.5" stroke="#000" stroke-width="1.5" stroke-linecap="butt"/>
<text transform="translate(427,1039.6) scale(0.83,1)" text-anchor="middle" font-size="23.02" fill="#000" stroke="#000" stroke-width="1">5</text>
<path d="M694.7,1001.98 L703.3,1008.58 L711.9,1001.98" fill="none" stroke="#000" stroke-width="1.6" stroke-linejoin="round" stroke-linecap="round"/>
<path d="M694.7,1015.68 L703.3,1022.28 L711.9,1015.68" fill="none" stroke="#000" stroke-width="1.6" stroke-linejoin="round" stroke-linecap="round"/>
<line x1="703.3" y1="1007" x2="703.3" y2="1022.5" stroke="#000" stroke-width="1.5" stroke-linecap="butt"/>
<text transform="translate(721.05,1039.6) scale(0.86,1)" text-anchor="middle" font-size="23.02" fill="#000" stroke="#000" stroke-width="1">4</text>
<path d="M783.2,1002.16 L791.8,1008.76 L800.4,1002.16" fill="none" stroke="#000" stroke-width="1.6" stroke-linejoin="round" stroke-linecap="round"/>
<path d="M783.2,1015.86 L791.8,1022.46 L800.4,1015.86" fill="none" stroke="#000" stroke-width="1.6" stroke-linejoin="round" stroke-linecap="round"/>
<line x1="791.8" y1="1007" x2="791.8" y2="1022.5" stroke="#000" stroke-width="1.5" stroke-linecap="butt"/>
<polygon points="811.21,1023.54 811.21,1039.6 808.9,1039.6 808.9,1026.29 805.98,1028.73 805.43,1026.76 809.25,1023.54" fill="#000"/>
<path d="M870.9,1002.35 L879.5,1008.95 L888.1,1002.35" fill="none" stroke="#000" stroke-width="1.6" stroke-linejoin="round" stroke-linecap="round"/>
<path d="M870.9,1016.05 L879.5,1022.65 L888.1,1016.05" fill="none" stroke="#000" stroke-width="1.6" stroke-linejoin="round" stroke-linecap="round"/>
<line x1="879.5" y1="1007" x2="879.5" y2="1022.5" stroke="#000" stroke-width="1.5" stroke-linecap="butt"/>
<text transform="translate(897.5,1039.6) scale(0.83,1)" text-anchor="middle" font-size="23.02" fill="#000" stroke="#000" stroke-width="1">2</text>
<line x1="408.9" y1="1021.5" x2="408.59" y2="1170" stroke="#000" stroke-width="4" stroke-linecap="butt"/>
<text transform="translate(357.84,1106.3) scale(0.81,1)" text-anchor="middle" font-size="23.73" fill="#000" stroke="#000" stroke-width="1">3</text>
<text transform="translate(369.71,1106.3) scale(0.68,1)" text-anchor="middle" font-size="23.73" fill="#000" stroke="#000" stroke-width="1">B</text>
<line x1="376.24" y1="1098.57" x2="386.93" y2="1098.57" stroke="#000" stroke-width="1.85" stroke-linecap="butt"/>
<text transform="translate(393.46,1106.3) scale(0.48,1)" text-anchor="middle" font-size="23.73" font-weight="bold" fill="#000" stroke="#000" stroke-width="0.35">W</text>
<path d="M409.5,1168.5 L438.8,1096 L615,1096.3 L614.3,1405.5" fill="none" stroke="#000" stroke-width="4.6" stroke-linejoin="miter"/>
<text transform="translate(563.36,1239.5) scale(0.75,1)" text-anchor="middle" font-size="25.71" fill="#000" stroke="#000" stroke-width="1">3</text>
<text transform="translate(575.29,1239.5) scale(0.63,1)" text-anchor="middle" font-size="25.71" fill="#000" stroke="#000" stroke-width="1">B</text>
<line x1="581.85" y1="1231.13" x2="592.58" y2="1231.13" stroke="#000" stroke-width="2" stroke-linecap="butt"/>
<text transform="translate(599.14,1239.5) scale(0.44,1)" text-anchor="middle" font-size="25.71" font-weight="bold" fill="#000" stroke="#000" stroke-width="0.35">W</text>
<line x1="629.5" y1="1301.5" x2="629.5" y2="1246" stroke="#000" stroke-width="1.4" stroke-linecap="butt"/>
<polygon points="629.6,1242 626.6,1251.5 632.6,1251.5" fill="#000"/>
<line x1="703.3" y1="1021.5" x2="702.49" y2="1405.5" stroke="#000" stroke-width="4" stroke-linecap="butt"/>
<text transform="translate(651.54,1239.5) scale(0.76,1)" text-anchor="middle" font-size="24.72" fill="#000" stroke="#000" stroke-width="1">2</text>
<text transform="translate(663.21,1239.5) scale(0.64,1)" text-anchor="middle" font-size="24.72" fill="#000" stroke="#000" stroke-width="1">B</text>
<line x1="669.63" y1="1231.45" x2="680.14" y2="1231.45" stroke="#000" stroke-width="1.93" stroke-linecap="butt"/>
<text transform="translate(686.56,1239.5) scale(0.76,1)" text-anchor="middle" font-size="24.72" fill="#000" stroke="#000" stroke-width="1">L</text>
<line x1="791.8" y1="1021.5" x2="790.99" y2="1405.5" stroke="#000" stroke-width="4" stroke-linecap="butt"/>
<text transform="translate(740.24,1239.5) scale(0.76,1)" text-anchor="middle" font-size="24.72" fill="#000" stroke="#000" stroke-width="1">2</text>
<text transform="translate(751.91,1239.5) scale(0.64,1)" text-anchor="middle" font-size="24.72" fill="#000" stroke="#000" stroke-width="1">B</text>
<line x1="758.33" y1="1231.45" x2="768.84" y2="1231.45" stroke="#000" stroke-width="1.93" stroke-linecap="butt"/>
<text transform="translate(775.26,1239.5) scale(0.59,1)" text-anchor="middle" font-size="24.72" fill="#000" stroke="#000" stroke-width="1">R</text>
<line x1="879.5" y1="1021.5" x2="879.19" y2="1170.5" stroke="#000" stroke-width="4" stroke-linecap="butt"/>
<text transform="translate(828.27,1107) scale(0.79,1)" text-anchor="middle" font-size="24.01" fill="#000" stroke="#000" stroke-width="1">2</text>
<text transform="translate(840.02,1107) scale(0.79,1)" text-anchor="middle" font-size="24.01" fill="#000" stroke="#000" stroke-width="1">L</text>
<line x1="846.49" y1="1099.18" x2="857.06" y2="1099.18" stroke="#000" stroke-width="1.87" stroke-linecap="butt"/>
<text transform="translate(863.52,1107) scale(0.66,1)" text-anchor="middle" font-size="24.01" fill="#000" stroke="#000" stroke-width="1">B</text>
<text transform="translate(897,1169.6) scale(0.83,1)" text-anchor="middle" font-size="23.02" fill="#000" stroke="#000" stroke-width="1">8</text>
<path d="M870.8,1176.6 L879.4,1170 L888,1176.6" fill="none" stroke="#000" stroke-width="1.6" stroke-linejoin="round" stroke-linecap="round"/>
<polygon points="849.5,1185 908.8,1185.12 908.68,1243.12 849.38,1243" fill="none" stroke="#000" stroke-width="1.4" stroke-linejoin="miter"/>
<path d="M870.7,1191.6 L879.3,1185 L887.9,1191.6" fill="none" stroke="#000" stroke-width="1.6" stroke-linejoin="round" stroke-linecap="round"/>
<line x1="879.4" y1="1169.5" x2="879.2" y2="1257.5" stroke="#000" stroke-width="1.5" stroke-linecap="butt"/>
<circle cx="879.3" cy="1214.3" r="3.6" fill="#000"/>
<path d="M870.6,1236.5 L879.2,1243.1 L887.8,1236.5" fill="none" stroke="#000" stroke-width="1.6" stroke-linejoin="round" stroke-linecap="round"/>
<path d="M870.6,1250.6 L879.2,1257.2 L887.8,1250.6" fill="none" stroke="#000" stroke-width="1.6" stroke-linejoin="round" stroke-linecap="round"/>
<line x1="879.2" y1="1256.5" x2="878.89" y2="1405.5" stroke="#000" stroke-width="4" stroke-linecap="butt"/>
<polygon points="900.91,1258.25 900.91,1274.6 898.56,1274.6 898.56,1261.03 895.2,1263.52 894.64,1261.52 898.91,1258.25" fill="#000"/>
<text transform="translate(909.1,1274.6) scale(0.73,1)" text-anchor="middle" font-size="23.45" fill="#000" stroke="#000" stroke-width="1">0</text>
<text x="918" y="1199.3" font-size="18.9" textLength="64" lengthAdjust="spacingAndGlyphs" fill="#000" stroke="#000" stroke-width="0.55">C/P (9)</text>
<rect x="913.3" y="1211.3" width="68.7" height="23.2" rx="7" ry="8" fill="none" stroke="#000" stroke-width="1.4"/>
<text transform="translate(929.09,1231.4) scale(0.64,1)" text-anchor="middle" font-size="24.01" fill="#000" stroke="#000" stroke-width="1">C</text>
<line x1="937.01" y1="1223.58" x2="945.92" y2="1223.58" stroke="#000" stroke-width="1.87" stroke-linecap="butt"/>
<polygon points="956.29,1214.65 956.29,1231.4 953.91,1231.4 953.91,1217.49 950.46,1220.04 949.89,1218 954.27,1214.65" fill="#000"/>
<text transform="translate(966.21,1231.4) scale(0.83,1)" text-anchor="middle" font-size="24.01" fill="#000" stroke="#000" stroke-width="1">0</text>
<text transform="translate(827.84,1353.8) scale(0.81,1)" text-anchor="middle" font-size="23.73" fill="#000" stroke="#000" stroke-width="1">2</text>
<text transform="translate(839.71,1353.8) scale(0.81,1)" text-anchor="middle" font-size="23.73" fill="#000" stroke="#000" stroke-width="1">L</text>
<line x1="846.24" y1="1346.07" x2="856.93" y2="1346.07" stroke="#000" stroke-width="1.85" stroke-linecap="butt"/>
<text transform="translate(863.46,1353.8) scale(0.68,1)" text-anchor="middle" font-size="23.73" fill="#000" stroke="#000" stroke-width="1">B</text>
<text x="216.3" y="1200" font-size="19.91" textLength="86.7" lengthAdjust="spacingAndGlyphs" fill="#000" stroke="#000" stroke-width="0.6">ПРИВОД</text>
<text x="216.3" y="1224.5" font-size="19.19" textLength="156.2" lengthAdjust="spacingAndGlyphs" fill="#000" stroke="#000" stroke-width="0.6" transform="rotate(0.12 216.3 1224.5)">ВЕНТИЛЯТОРА</text>
<rect x="300.5" y="1233" width="69.5" height="24.5" rx="7" ry="8" fill="none" stroke="#000" stroke-width="1.4"/>
<text transform="translate(316.39,1254.4) scale(0.61,1)" text-anchor="middle" font-size="25.85" fill="#000" stroke="#000" stroke-width="1">C</text>
<line x1="324.44" y1="1245.98" x2="333.49" y2="1245.98" stroke="#000" stroke-width="2.01" stroke-linecap="butt"/>
<text transform="translate(341.54,1254.4) scale(0.79,1)" text-anchor="middle" font-size="25.85" fill="#000" stroke="#000" stroke-width="1">2</text>
<text transform="translate(354.11,1254.4) scale(0.79,1)" text-anchor="middle" font-size="25.85" fill="#000" stroke="#000" stroke-width="1">8</text>
<polygon points="428.25,1151.56 428.25,1168.3 425.86,1168.3 425.86,1154.39 422.96,1156.94 422.4,1154.9 426.22,1151.56" fill="#000"/>
<path d="M400.6,1176.6 L409.2,1170 L417.8,1176.6" fill="none" stroke="#000" stroke-width="1.6" stroke-linejoin="round" stroke-linecap="round"/>
<polygon points="380,1183.8 439.5,1183.92 439.32,1271.32 379.82,1271.2" fill="none" stroke="#000" stroke-width="1.4" stroke-linejoin="miter"/>
<path d="M400.6,1190.5 L409.2,1183.9 L417.8,1190.5" fill="none" stroke="#000" stroke-width="1.6" stroke-linejoin="round" stroke-linecap="round"/>
<line x1="409.2" y1="1170" x2="409.2" y2="1201.3" stroke="#000" stroke-width="1.5" stroke-linecap="butt"/>
<rect x="400.8" y="1201.3" width="18" height="12" fill="none" stroke="#000" stroke-width="1.4"/>
<rect x="400.8" y="1243" width="18" height="11.5" fill="none" stroke="#000" stroke-width="1.4"/>
<circle cx="409.5" cy="1228" r="17.8" fill="#fff" stroke="#000" stroke-width="1.5"/>
<text x="409.7" y="1237" font-size="25" text-anchor="middle" textLength="22" lengthAdjust="spacingAndGlyphs" fill="#000">M</text>
<line x1="409.1" y1="1254.5" x2="408.9" y2="1286" stroke="#000" stroke-width="1.5" stroke-linecap="butt"/>
<path d="M400.4,1264.7 L409,1271.3 L417.6,1264.7" fill="none" stroke="#000" stroke-width="1.6" stroke-linejoin="round" stroke-linecap="round"/>
<path d="M400.3,1278.9 L408.9,1285.5 L417.5,1278.9" fill="none" stroke="#000" stroke-width="1.6" stroke-linejoin="round" stroke-linecap="round"/>
<line x1="408.8" y1="1285" x2="408.58" y2="1389" stroke="#000" stroke-width="4" stroke-linecap="butt"/>
<text transform="translate(427,1303.8) scale(0.83,1)" text-anchor="middle" font-size="23.02" fill="#000" stroke="#000" stroke-width="1">2</text>
<text transform="translate(380.32,1330.5) scale(0.81,1)" text-anchor="middle" font-size="23.59" fill="#000" stroke="#000" stroke-width="1">3</text>
<text transform="translate(392.18,1330.5) scale(0.68,1)" text-anchor="middle" font-size="23.59" fill="#000" stroke="#000" stroke-width="1">B</text>
<text x="328.8" y="1389.3" font-size="20.06" textLength="61.7" lengthAdjust="spacingAndGlyphs" fill="#000" stroke="#000" stroke-width="0.85">(ЛЕВ.)</text>
<text x="423.8" y="1389.3" font-size="20.06" textLength="77.5" lengthAdjust="spacingAndGlyphs" fill="#000" stroke="#000" stroke-width="0.85">(ПРАВ.)</text>
<path d="M319.3,1407.5 Q319.5,1402.5 326,1402.5 L403.3,1402.7 Q408,1402.5 408.3,1396.3 Q408.6,1402.7 413.3,1402.9 L491,1403.1 Q497.5,1403.1 497.7,1407.9" fill="none" stroke="#000" stroke-width="1.3" stroke-linejoin="round" stroke-linecap="round"/>
<line x1="320" y1="1418.8" x2="319.75" y2="1536.3" stroke="#000" stroke-width="3.8" stroke-linecap="butt"/>
<circle cx="319.8" cy="1542.2" r="6" fill="#fff" stroke="#000" stroke-width="1.5"/>
<line x1="308" y1="1548.3" x2="331.5" y2="1548.3" stroke="#000" stroke-width="1.7" stroke-linecap="butt"/>
<line x1="314" y1="1556.9" x2="325.5" y2="1556.9" stroke="#000" stroke-width="1.6" stroke-linecap="butt"/>
<line x1="317" y1="1565.9" x2="322.6" y2="1565.9" stroke="#000" stroke-width="1.6" stroke-linecap="butt"/>
<line x1="497" y1="1418.8" x2="496.75" y2="1536.3" stroke="#000" stroke-width="3.8" stroke-linecap="butt"/>
<circle cx="496.8" cy="1542.2" r="6" fill="#fff" stroke="#000" stroke-width="1.5"/>
<line x1="485" y1="1548.3" x2="508.5" y2="1548.3" stroke="#000" stroke-width="1.7" stroke-linecap="butt"/>
<line x1="491" y1="1556.9" x2="502.5" y2="1556.9" stroke="#000" stroke-width="1.6" stroke-linecap="butt"/>
<line x1="494" y1="1565.9" x2="499.6" y2="1565.9" stroke="#000" stroke-width="1.6" stroke-linecap="butt"/>
<rect x="304.6" y="1579.2" width="30.6" height="30.4" fill="#000"/>
<polygon points="318.9,1584.8 318.9,1605.8 313.5,1605.8 313.5,1591.21 310.58,1595.09 309.3,1590.47 314.31,1584.8" fill="#fff"/>
<polygon points="331.7,1584.8 331.7,1605.8 326.3,1605.8 326.3,1591.21 323.38,1595.09 322.1,1590.47 327.11,1584.8" fill="#fff"/>
<rect x="481.6" y="1579.2" width="30.6" height="30.4" fill="#000"/>
<polygon points="493.4,1584.8 493.4,1605.8 488.2,1605.8 488.2,1590.97 485.87,1594.92 484.63,1590.47 488.98,1584.8" fill="#fff"/>
<ellipse cx="501.9" cy="1595.4" rx="5.2" ry="8.2" fill="none" stroke="#fff" stroke-width="5"/>
<polygon points="584.5,1418.8 908.8,1419.48 908.55,1536.68 584.25,1536" fill="none" stroke="#000" stroke-width="1.4" stroke-linejoin="miter"/>
<path d="M605.7,1411.6 L614.3,1405 L622.9,1411.6" fill="none" stroke="#000" stroke-width="1.6" stroke-linejoin="round" stroke-linecap="round"/>
<path d="M605.7,1425.46 L614.3,1418.86 L622.9,1425.46" fill="none" stroke="#000" stroke-width="1.6" stroke-linejoin="round" stroke-linecap="round"/>
<line x1="614.3" y1="1404.5" x2="614.3" y2="1418.86" stroke="#000" stroke-width="1.5" stroke-linecap="butt"/>
<polygon points="633.85,1387.25 633.85,1403.8 631.49,1403.8 631.49,1390.06 628.7,1392.58 628.14,1390.56 631.84,1387.25" fill="#000"/>
<path d="M693.9,1411.6 L702.5,1405 L711.1,1411.6" fill="none" stroke="#000" stroke-width="1.6" stroke-linejoin="round" stroke-linecap="round"/>
<path d="M693.9,1425.65 L702.5,1419.05 L711.1,1425.65" fill="none" stroke="#000" stroke-width="1.6" stroke-linejoin="round" stroke-linecap="round"/>
<line x1="702.5" y1="1404.5" x2="702.5" y2="1419.05" stroke="#000" stroke-width="1.5" stroke-linecap="butt"/>
<text transform="translate(720.25,1403.8) scale(0.84,1)" text-anchor="middle" font-size="23.73" fill="#000" stroke="#000" stroke-width="1">2</text>
<path d="M782.2,1411.6 L790.8,1405 L799.4,1411.6" fill="none" stroke="#000" stroke-width="1.6" stroke-linejoin="round" stroke-linecap="round"/>
<path d="M782.2,1425.83 L790.8,1419.23 L799.4,1425.83" fill="none" stroke="#000" stroke-width="1.6" stroke-linejoin="round" stroke-linecap="round"/>
<line x1="790.8" y1="1404.5" x2="790.8" y2="1419.23" stroke="#000" stroke-width="1.5" stroke-linecap="butt"/>
<text transform="translate(808.15,1403.8) scale(0.83,1)" text-anchor="middle" font-size="23.73" fill="#000" stroke="#000" stroke-width="1">3</text>
<path d="M870.4,1411.6 L879,1405 L887.6,1411.6" fill="none" stroke="#000" stroke-width="1.6" stroke-linejoin="round" stroke-linecap="round"/>
<path d="M870.4,1426.02 L879,1419.42 L887.6,1426.02" fill="none" stroke="#000" stroke-width="1.6" stroke-linejoin="round" stroke-linecap="round"/>
<line x1="879" y1="1404.5" x2="879" y2="1419.42" stroke="#000" stroke-width="1.5" stroke-linecap="butt"/>
<text transform="translate(896.65,1403.8) scale(0.85,1)" text-anchor="middle" font-size="23.73" fill="#000" stroke="#000" stroke-width="1">4</text>
<line x1="614.3" y1="1419.5" x2="614.2" y2="1507" stroke="#000" stroke-width="1.4" stroke-linecap="butt"/>
<line x1="702.5" y1="1419.5" x2="702.4" y2="1507" stroke="#000" stroke-width="1.4" stroke-linecap="butt"/>
<line x1="790.8" y1="1419.5" x2="790.7" y2="1507" stroke="#000" stroke-width="1.4" stroke-linecap="butt"/>
<line x1="879" y1="1419.5" x2="878.9" y2="1507" stroke="#000" stroke-width="1.4" stroke-linecap="butt"/>
<path d="M614.2,1507 L640.5,1507 L643.58,1515.3 L649.75,1498.7 L655.92,1515.3 L662.08,1498.7 L668.25,1515.3 L674.42,1498.7 L677.5,1507 L702.4,1507 L728,1507 L731.12,1515.3 L737.38,1498.7 L743.62,1515.3 L749.88,1498.7 L756.12,1515.3 L762.38,1498.7 L765.5,1507 L790.7,1507 L816.3,1507 L819.42,1515.3 L825.67,1498.7 L831.92,1515.3 L838.17,1498.7 L844.42,1515.3 L850.67,1498.7 L853.8,1507 L878.9,1507" fill="none" stroke="#000" stroke-width="1.5" stroke-linejoin="miter"/>
<circle cx="702.5" cy="1507" r="3.6" fill="#000"/>
<circle cx="790.7" cy="1507" r="3.6" fill="#000"/>
<text x="923.5" y="1452.8" font-size="19.77" textLength="257.9" lengthAdjust="spacingAndGlyphs" fill="#000" stroke="#000" stroke-width="0.6" transform="rotate(0.12 923.5 1452.8)">РЕЗИСТОР УПРАВЛЕНИЯ</text>
<text x="923.5" y="1478" font-size="19.91" textLength="272.5" lengthAdjust="spacingAndGlyphs" fill="#000" stroke="#000" stroke-width="0.6" transform="rotate(0.12 923.5 1478)">ТЕМПЕРАТУРЫ СИСТЕМЫ</text>
<text x="923.5" y="1503.2" font-size="19.91" textLength="247" lengthAdjust="spacingAndGlyphs" fill="#000" stroke="#000" stroke-width="0.6" transform="rotate(0.12 923.5 1503.2)">КОНДИЦИОНИРОВАНИЯ</text>
<rect x="918" y="1514.5" width="69.8" height="24.1" rx="7" ry="8" fill="none" stroke="#000" stroke-width="1.4"/>
<text transform="translate(933.92,1535.5) scale(0.62,1)" text-anchor="middle" font-size="25.28" fill="#000" stroke="#000" stroke-width="1">C</text>
<line x1="942.02" y1="1527.27" x2="951.13" y2="1527.27" stroke="#000" stroke-width="1.97" stroke-linecap="butt"/>
<text transform="translate(959.22,1535.5) scale(0.81,1)" text-anchor="middle" font-size="25.28" fill="#000" stroke="#000" stroke-width="1">2</text>
<text transform="translate(971.88,1535.5) scale(0.81,1)" text-anchor="middle" font-size="25.28" fill="#000" stroke="#000" stroke-width="1">3</text>
<rect x="167" y="1623.9" width="69.3" height="23.9" rx="7" ry="8" fill="none" stroke="#000" stroke-width="1.4"/>
<text transform="translate(182.86,1644.7) scale(0.62,1)" text-anchor="middle" font-size="25" fill="#000" stroke="#000" stroke-width="1">C</text>
<line x1="190.88" y1="1636.56" x2="199.9" y2="1636.56" stroke="#000" stroke-width="1.95" stroke-linecap="butt"/>
<text transform="translate(207.91,1644.7) scale(0.81,1)" text-anchor="middle" font-size="25" fill="#000" stroke="#000" stroke-width="1">0</text>
<text transform="translate(220.44,1644.7) scale(0.81,1)" text-anchor="middle" font-size="25" fill="#000" stroke="#000" stroke-width="1">6</text>
<rect x="255.5" y="1623.97" width="68.8" height="23.9" rx="7" ry="8" fill="none" stroke="#000" stroke-width="1.4"/>
<text transform="translate(271.3,1644.77) scale(0.62,1)" text-anchor="middle" font-size="25" fill="#000" stroke="#000" stroke-width="1">C</text>
<line x1="279.24" y1="1636.63" x2="288.16" y2="1636.63" stroke="#000" stroke-width="1.95" stroke-linecap="butt"/>
<polygon points="298.65,1627.34 298.65,1644.77 296.19,1644.77 296.19,1630.26 292.59,1632.93 292,1630.82 296.56,1627.34" fill="#000"/>
<text transform="translate(308.5,1644.77) scale(0.8,1)" text-anchor="middle" font-size="25" fill="#000" stroke="#000" stroke-width="1">0</text>
<rect x="418.8" y="1624.1" width="68.2" height="23.9" rx="7" ry="8" fill="none" stroke="#000" stroke-width="1.4"/>
<text transform="translate(434.52,1644.9) scale(0.61,1)" text-anchor="middle" font-size="25" fill="#000" stroke="#000" stroke-width="1">C</text>
<line x1="442.36" y1="1636.76" x2="451.19" y2="1636.76" stroke="#000" stroke-width="1.95" stroke-linecap="butt"/>
<text transform="translate(459.03,1644.9) scale(0.79,1)" text-anchor="middle" font-size="25" fill="#000" stroke="#000" stroke-width="1">2</text>
<text transform="translate(471.28,1644.9) scale(0.79,1)" text-anchor="middle" font-size="25" fill="#000" stroke="#000" stroke-width="1">3</text>
<rect x="524.3" y="1624.19" width="68.7" height="23.9" rx="7" ry="8" fill="none" stroke="#000" stroke-width="1.4"/>
<text transform="translate(540.09,1644.99) scale(0.62,1)" text-anchor="middle" font-size="25" fill="#000" stroke="#000" stroke-width="1">C</text>
<line x1="548.01" y1="1636.84" x2="556.92" y2="1636.84" stroke="#000" stroke-width="1.95" stroke-linecap="butt"/>
<text transform="translate(564.84,1644.99) scale(0.8,1)" text-anchor="middle" font-size="25" fill="#000" stroke="#000" stroke-width="1">2</text>
<text transform="translate(577.21,1644.99) scale(0.8,1)" text-anchor="middle" font-size="25" fill="#000" stroke="#000" stroke-width="1">8</text>
<rect x="613" y="1624.26" width="68.3" height="23.9" rx="7" ry="8" fill="none" stroke="#000" stroke-width="1.4"/>
<text transform="translate(623.35,1645.06) scale(0.59,1)" text-anchor="middle" font-size="25" fill="#000" stroke="#000" stroke-width="1">C</text>
<line x1="630.97" y1="1636.91" x2="639.53" y2="1636.91" stroke="#000" stroke-width="1.95" stroke-linecap="butt"/>
<text transform="translate(647.15,1645.06) scale(0.77,1)" text-anchor="middle" font-size="25" fill="#000" stroke="#000" stroke-width="1">2</text>
<text transform="translate(659.05,1645.06) scale(0.77,1)" text-anchor="middle" font-size="25" fill="#000" stroke="#000" stroke-width="1">0</text>
<polygon points="673.5,1627.62 673.5,1645.06 671.04,1645.06 671.04,1630.54 667.44,1633.21 666.85,1631.11 671.41,1627.62" fill="#000"/>
<rect x="700.8" y="1624.33" width="68.7" height="23.9" rx="7" ry="8" fill="none" stroke="#000" stroke-width="1.4"/>
<text transform="translate(711.19,1645.13) scale(0.6,1)" text-anchor="middle" font-size="25" fill="#000" stroke="#000" stroke-width="1">C</text>
<line x1="718.86" y1="1636.99" x2="727.48" y2="1636.99" stroke="#000" stroke-width="1.95" stroke-linecap="butt"/>
<text transform="translate(735.15,1645.13) scale(0.78,1)" text-anchor="middle" font-size="25" fill="#000" stroke="#000" stroke-width="1">2</text>
<text transform="translate(747.13,1645.13) scale(0.78,1)" text-anchor="middle" font-size="25" fill="#000" stroke="#000" stroke-width="1">0</text>
<text transform="translate(759.11,1645.13) scale(0.78,1)" text-anchor="middle" font-size="25" fill="#000" stroke="#000" stroke-width="1">7</text>
<rect x="806.8" y="1624.41" width="68.7" height="23.9" rx="7" ry="8" fill="none" stroke="#000" stroke-width="1.4"/>
<text transform="translate(817.19,1645.21) scale(0.6,1)" text-anchor="middle" font-size="25" fill="#000" stroke="#000" stroke-width="1">C</text>
<line x1="824.86" y1="1637.07" x2="833.48" y2="1637.07" stroke="#000" stroke-width="1.95" stroke-linecap="butt"/>
<text transform="translate(841.15,1645.21) scale(0.78,1)" text-anchor="middle" font-size="25" fill="#000" stroke="#000" stroke-width="1">2</text>
<text transform="translate(853.13,1645.21) scale(0.78,1)" text-anchor="middle" font-size="25" fill="#000" stroke="#000" stroke-width="1">0</text>
<text transform="translate(865.11,1645.21) scale(0.78,1)" text-anchor="middle" font-size="25" fill="#000" stroke="#000" stroke-width="1">8</text>
<rect x="987.5" y="1624.56" width="68.3" height="23.9" rx="7" ry="8" fill="none" stroke="#000" stroke-width="1.4"/>
<text transform="translate(997.85,1645.36) scale(0.59,1)" text-anchor="middle" font-size="25" fill="#000" stroke="#000" stroke-width="1">C</text>
<line x1="1005.47" y1="1637.21" x2="1014.03" y2="1637.21" stroke="#000" stroke-width="1.95" stroke-linecap="butt"/>
<text transform="translate(1021.65,1645.36) scale(0.77,1)" text-anchor="middle" font-size="25" fill="#000" stroke="#000" stroke-width="1">2</text>
<polygon points="1036.1,1627.92 1036.1,1645.36 1033.64,1645.36 1033.64,1630.84 1030.04,1633.51 1029.45,1631.41 1034.01,1627.92" fill="#000"/>
<text transform="translate(1045.45,1645.36) scale(0.77,1)" text-anchor="middle" font-size="25" fill="#000" stroke="#000" stroke-width="1">3</text>
<polygon points="200.3,1654.8 207.3,1654.8 203.8,1660" fill="none" stroke="#000" stroke-width="1.2"/>
<polygon points="171.8,1660.5 236.3,1660.64 236.21,1705.14 171.71,1705" fill="none" stroke="#000" stroke-width="1.5" stroke-linejoin="miter"/>
<path d="M176.3,1668 L179,1668 L179,1664.6 L229.5,1664.6 L229.5,1668 L232,1668 L232,1701.3 L176.3,1701.3 Z" fill="none" stroke="#000" stroke-width="1.3" stroke-linejoin="round" stroke-linecap="round"/>
<line x1="195" y1="1664.6" x2="195" y2="1701.3" stroke="#000" stroke-width="1.3" stroke-linecap="butt"/>
<line x1="213.8" y1="1664.6" x2="213.8" y2="1701.3" stroke="#000" stroke-width="1.3" stroke-linecap="butt"/>
<line x1="176.3" y1="1683.3" x2="232" y2="1683.3" stroke="#000" stroke-width="1.3" stroke-linecap="butt"/>
<polygon points="187.59,1668.28 187.59,1680.3 185.83,1680.3 185.83,1670.37 183.36,1672.19 182.94,1670.69 186.09,1668.28" fill="#000"/>
<text transform="translate(204.5,1680.3) scale(0.95,1)" text-anchor="middle" font-size="17.23" fill="#000" stroke="#000" stroke-width="0.8">2</text>
<text transform="translate(223,1680.3) scale(0.95,1)" text-anchor="middle" font-size="17.23" fill="#000" stroke="#000" stroke-width="0.8">3</text>
<text transform="translate(185.8,1699.2) scale(0.95,1)" text-anchor="middle" font-size="17.23" fill="#000" stroke="#000" stroke-width="0.8">4</text>
<text transform="translate(204.5,1699.2) scale(0.95,1)" text-anchor="middle" font-size="17.23" fill="#000" stroke="#000" stroke-width="0.8">5</text>
<text transform="translate(223,1699.2) scale(0.95,1)" text-anchor="middle" font-size="17.23" fill="#000" stroke="#000" stroke-width="0.8">6</text>
<text transform="translate(266.88,1666.4) scale(0.85,1)" text-anchor="middle" font-size="16.1" font-weight="bold" fill="#000" stroke="#000" stroke-width="0.75">(</text>
<text transform="translate(274.25,1666.4) scale(0.54,1)" text-anchor="middle" font-size="16.1" font-weight="bold" fill="#000" stroke="#000" stroke-width="0.75">M</text>
<text transform="translate(281.62,1666.4) scale(0.62,1)" text-anchor="middle" font-size="16.1" font-weight="bold" fill="#000" stroke="#000" stroke-width="0.75">U</text>
<text transform="translate(289,1666.4) scale(0.81,1)" text-anchor="middle" font-size="16.1" font-weight="bold" fill="#000" stroke="#000" stroke-width="0.75">8</text>
<text transform="translate(296.37,1666.4) scale(0.81,1)" text-anchor="middle" font-size="16.1" font-weight="bold" fill="#000" stroke="#000" stroke-width="0.75">0</text>
<polygon points="305.61,1655.17 305.61,1666.4 303.55,1666.4 303.55,1657.62 301.35,1659.18 300.86,1657.42 303.86,1655.17" fill="#000"/>
<text transform="translate(311.11,1666.4) scale(0.81,1)" text-anchor="middle" font-size="16.1" font-weight="bold" fill="#000" stroke="#000" stroke-width="0.75">8</text>
<text transform="translate(318.48,1666.4) scale(0.81,1)" text-anchor="middle" font-size="16.1" font-weight="bold" fill="#000" stroke="#000" stroke-width="0.75">5</text>
<text transform="translate(325.85,1666.4) scale(0.81,1)" text-anchor="middle" font-size="16.1" font-weight="bold" fill="#000" stroke="#000" stroke-width="0.75">2</text>
<text transform="translate(333.22,1666.4) scale(0.85,1)" text-anchor="middle" font-size="16.1" font-weight="bold" fill="#000" stroke="#000" stroke-width="0.75">)</text>
<rect x="301.3" y="1670.8" width="38.7" height="3.2" fill="none" stroke="#000" stroke-width="1.3"/>
<polygon points="260,1673.8 400,1674.09 399.88,1731.59 259.88,1731.3" fill="none" stroke="#000" stroke-width="1.5" stroke-linejoin="miter"/>
<rect x="264.3" y="1677.5" width="19" height="18.8" fill="none" stroke="#000" stroke-width="1.4"/>
<polygon points="275.54,1681.18 275.54,1692.8 273.82,1692.8 273.82,1683.22 271.44,1684.97 271.03,1683.5 274.08,1681.18" fill="#000"/>
<rect x="283.3" y="1677.5" width="18.5" height="18.8" fill="none" stroke="#000" stroke-width="1.4"/>
<text transform="translate(292.55,1692.8) scale(0.91,1)" text-anchor="middle" font-size="16.67" fill="#000" stroke="#000" stroke-width="0.8">2</text>
<rect x="340" y="1677.5" width="18.3" height="18.8" fill="none" stroke="#000" stroke-width="1.4"/>
<text transform="translate(349.15,1692.8) scale(0.91,1)" text-anchor="middle" font-size="16.67" fill="#000" stroke="#000" stroke-width="0.8">3</text>
<rect x="358.3" y="1677.5" width="19.2" height="18.8" fill="none" stroke="#000" stroke-width="1.4"/>
<text transform="translate(367.9,1692.8) scale(0.91,1)" text-anchor="middle" font-size="16.67" fill="#000" stroke="#000" stroke-width="0.8">4</text>
<rect x="377.5" y="1677.5" width="18.8" height="18.8" fill="none" stroke="#000" stroke-width="1.4"/>
<text transform="translate(386.9,1692.8) scale(0.91,1)" text-anchor="middle" font-size="16.67" fill="#000" stroke="#000" stroke-width="0.8">5</text>
<rect x="264.3" y="1700" width="19" height="20" fill="none" stroke="#000" stroke-width="1.4"/>
<text transform="translate(273.8,1715.9) scale(0.91,1)" text-anchor="middle" font-size="16.67" fill="#000" stroke="#000" stroke-width="0.8">6</text>
<rect x="283.3" y="1700" width="18.5" height="20" fill="none" stroke="#000" stroke-width="1.4"/>
<text transform="translate(292.55,1715.9) scale(0.91,1)" text-anchor="middle" font-size="16.67" fill="#000" stroke="#000" stroke-width="0.8">7</text>
<rect x="301.8" y="1700" width="18.7" height="20" fill="none" stroke="#000" stroke-width="1.4"/>
<text transform="translate(311.15,1715.9) scale(0.91,1)" text-anchor="middle" font-size="16.67" fill="#000" stroke="#000" stroke-width="0.8">8</text>
<rect x="320.5" y="1700" width="19.5" height="20" fill="none" stroke="#000" stroke-width="1.4"/>
<text transform="translate(330.25,1715.9) scale(0.91,1)" text-anchor="middle" font-size="16.67" fill="#000" stroke="#000" stroke-width="0.8">9</text>
<rect x="340" y="1700" width="18.3" height="20" fill="none" stroke="#000" stroke-width="1.4"/>
<polygon points="346.89,1704.28 346.89,1715.9 345.17,1715.9 345.17,1706.32 342.79,1708.07 342.38,1706.6 345.43,1704.28" fill="#000"/>
<text transform="translate(353.15,1715.9) scale(0.79,1)" text-anchor="middle" font-size="16.67" fill="#000" stroke="#000" stroke-width="0.8">0</text>
<rect x="358.3" y="1700" width="19.2" height="20" fill="none" stroke="#000" stroke-width="1.4"/>
<polygon points="365.64,1704.28 365.64,1715.9 363.92,1715.9 363.92,1706.32 361.54,1708.07 361.13,1706.6 364.18,1704.28" fill="#000"/>
<polygon points="373.64,1704.28 373.64,1715.9 371.92,1715.9 371.92,1706.32 369.54,1708.07 369.13,1706.6 372.18,1704.28" fill="#000"/>
<rect x="377.5" y="1700" width="18.8" height="20" fill="none" stroke="#000" stroke-width="1.4"/>
<polygon points="384.64,1704.28 384.64,1715.9 382.92,1715.9 382.92,1706.32 380.54,1708.07 380.13,1706.6 383.18,1704.28" fill="#000"/>
<text transform="translate(390.9,1715.9) scale(0.79,1)" text-anchor="middle" font-size="16.67" fill="#000" stroke="#000" stroke-width="0.8">2</text>
<path d="M312.5,1700 L312.5,1693.8 L328.3,1693.8 L328.3,1700" fill="none" stroke="#000" stroke-width="1.3" stroke-linejoin="round" stroke-linecap="round"/>
<path d="M263.8,1721.8 L396.3,1722 L390,1727.6 L270,1727.4 Z" fill="none" stroke="#000" stroke-width="1.3" stroke-linejoin="round" stroke-linecap="round"/>
<polygon points="422.5,1661.3 506.3,1661.48 506.24,1690.68 422.44,1690.5" fill="none" stroke="#000" stroke-width="1.5" stroke-linejoin="miter"/>
<rect x="427" y="1664.6" width="18.8" height="22.2" fill="none" stroke="#000" stroke-width="1.4"/>
<polygon points="438.14,1669.98 438.14,1681.6 436.42,1681.6 436.42,1672.02 434.04,1673.77 433.63,1672.3 436.68,1669.98" fill="#000"/>
<rect x="445.8" y="1664.6" width="18.7" height="22.2" fill="none" stroke="#000" stroke-width="1.4"/>
<text transform="translate(455.15,1681.6) scale(0.91,1)" text-anchor="middle" font-size="16.67" fill="#000" stroke="#000" stroke-width="0.8">2</text>
<rect x="464.5" y="1664.6" width="18.8" height="22.2" fill="none" stroke="#000" stroke-width="1.4"/>
<text transform="translate(473.9,1681.6) scale(0.91,1)" text-anchor="middle" font-size="16.67" fill="#000" stroke="#000" stroke-width="0.8">3</text>
<rect x="483.3" y="1664.6" width="19.2" height="22.2" fill="none" stroke="#000" stroke-width="1.4"/>
<text transform="translate(492.9,1681.6) scale(0.91,1)" text-anchor="middle" font-size="16.67" fill="#000" stroke="#000" stroke-width="0.8">4</text>
<rect x="543.5" y="1657.6" width="6" height="2.4" fill="#000"/>
<polygon points="528.8,1661.3 563.8,1661.37 563.71,1705.57 528.71,1705.5" fill="none" stroke="#000" stroke-width="1.5" stroke-linejoin="miter"/>
<rect x="532.5" y="1665" width="27.5" height="18.8" fill="none" stroke="#000" stroke-width="1.4"/>
<polygon points="547.99,1668.68 547.99,1680.3 546.27,1680.3 546.27,1670.72 543.89,1672.47 543.48,1671 546.53,1668.68" fill="#000"/>
<rect x="537" y="1683.8" width="19.3" height="18.7" fill="none" stroke="#000" stroke-width="1.4"/>
<text transform="translate(546.65,1699.05) scale(0.91,1)" text-anchor="middle" font-size="16.67" fill="#000" stroke="#000" stroke-width="0.8">2</text>
<rect x="640.5" y="1657.5" width="8.3" height="3.8" fill="none" stroke="#000" stroke-width="1.2"/>
<rect x="640.5" y="1730.5" width="8.3" height="4.3" fill="none" stroke="#000" stroke-width="1.2"/>
<polygon points="617.5,1661.3 671.3,1661.41 671.15,1730.61 617.35,1730.5" fill="none" stroke="#000" stroke-width="1.5" stroke-linejoin="miter"/>
<rect x="620.8" y="1665.5" width="15.5" height="15" fill="none" stroke="#000" stroke-width="1.4"/>
<polygon points="630.29,1667.28 630.29,1678.9 628.57,1678.9 628.57,1669.32 626.19,1671.07 625.78,1669.6 628.83,1667.28" fill="#000"/>
<rect x="636.3" y="1665.5" width="15.5" height="15" fill="none" stroke="#000" stroke-width="1.4"/>
<line x1="636.3" y1="1665.5" x2="651.8" y2="1680.5" stroke="#000" stroke-width="1.3" stroke-linecap="butt"/>
<line x1="651.8" y1="1665.5" x2="636.3" y2="1680.5" stroke="#000" stroke-width="1.3" stroke-linecap="butt"/>
<rect x="651.8" y="1665.5" width="16.2" height="15" fill="none" stroke="#000" stroke-width="1.4"/>
<text transform="translate(659.9,1678.9) scale(0.91,1)" text-anchor="middle" font-size="16.67" fill="#000" stroke="#000" stroke-width="0.8">2</text>
<rect x="628.8" y="1680.5" width="30.7" height="22.8" fill="none" stroke="#000" stroke-width="1.4"/>
<text transform="translate(644.15,1697.8) scale(0.91,1)" text-anchor="middle" font-size="16.67" fill="#000" stroke="#000" stroke-width="0.8">3</text>
<rect x="628.8" y="1703.3" width="30.7" height="23.5" fill="none" stroke="#000" stroke-width="1.4"/>
<text transform="translate(644.15,1720.95) scale(0.91,1)" text-anchor="middle" font-size="16.67" fill="#000" stroke="#000" stroke-width="0.8">4</text>
<text transform="translate(708.77,1667.4) scale(0.56,1)" text-anchor="middle" font-size="16.38" font-weight="bold" fill="#000" stroke="#000" stroke-width="0.75">M</text>
<text transform="translate(716.52,1667.4) scale(0.64,1)" text-anchor="middle" font-size="16.38" font-weight="bold" fill="#000" stroke="#000" stroke-width="0.75">U</text>
<text transform="translate(724.27,1667.4) scale(0.83,1)" text-anchor="middle" font-size="16.38" font-weight="bold" fill="#000" stroke="#000" stroke-width="0.75">8</text>
<text transform="translate(732.02,1667.4) scale(0.83,1)" text-anchor="middle" font-size="16.38" font-weight="bold" fill="#000" stroke="#000" stroke-width="0.75">0</text>
<polygon points="741.68,1655.97 741.68,1667.4 739.6,1667.4 739.6,1658.45 737.35,1660.04 736.85,1658.26 739.91,1655.97" fill="#000"/>
<text transform="translate(747.52,1667.4) scale(0.83,1)" text-anchor="middle" font-size="16.38" font-weight="bold" fill="#000" stroke="#000" stroke-width="0.75">3</text>
<text transform="translate(755.27,1667.4) scale(0.83,1)" text-anchor="middle" font-size="16.38" font-weight="bold" fill="#000" stroke="#000" stroke-width="0.75">3</text>
<polygon points="764.93,1655.97 764.93,1667.4 762.85,1667.4 762.85,1658.45 760.6,1660.04 760.1,1658.26 763.16,1655.97" fill="#000"/>
<polygon points="705,1671.8 788.8,1671.98 788.69,1725.18 704.89,1725" fill="none" stroke="#000" stroke-width="1.5" stroke-linejoin="miter"/>
<path d="M728,1675 L709.5,1675 L709.5,1713.8 L717.5,1722 L776.3,1722 L784.5,1713.8 L784.5,1675 L766.3,1675 M740.5,1675.2 L752.5,1675.2" fill="none" stroke="#000" stroke-width="1.3" stroke-linejoin="round" stroke-linecap="round"/>
<line x1="709.5" y1="1693.8" x2="784.5" y2="1693.8" stroke="#000" stroke-width="1.3" stroke-linecap="butt"/>
<line x1="728" y1="1675" x2="728" y2="1722" stroke="#000" stroke-width="1.3" stroke-linecap="butt"/>
<line x1="766.3" y1="1675" x2="766.3" y2="1722" stroke="#000" stroke-width="1.3" stroke-linecap="butt"/>
<line x1="747" y1="1693.8" x2="747" y2="1722" stroke="#000" stroke-width="1.3" stroke-linecap="butt"/>
<path d="M740.5,1693.8 L740.5,1675.2 M752.5,1675.2 L752.5,1693.8" fill="none" stroke="#000" stroke-width="1.3" stroke-linejoin="round" stroke-linecap="round"/>
<polygon points="720.59,1678.58 720.59,1690.6 718.83,1690.6 718.83,1680.67 716.36,1682.49 715.94,1680.99 719.09,1678.58" fill="#000"/>
<text transform="translate(775.4,1690.6) scale(0.95,1)" text-anchor="middle" font-size="17.23" fill="#000" stroke="#000" stroke-width="0.8">2</text>
<text transform="translate(718.8,1713.5) scale(0.95,1)" text-anchor="middle" font-size="17.23" fill="#000" stroke="#000" stroke-width="0.8">3</text>
<text transform="translate(737.5,1713.5) scale(0.95,1)" text-anchor="middle" font-size="17.23" fill="#000" stroke="#000" stroke-width="0.8">4</text>
<text transform="translate(756.6,1713.5) scale(0.95,1)" text-anchor="middle" font-size="17.23" fill="#000" stroke="#000" stroke-width="0.8">5</text>
<text transform="translate(775.4,1713.5) scale(0.95,1)" text-anchor="middle" font-size="17.23" fill="#000" stroke="#000" stroke-width="0.8">6</text>
<text transform="translate(815.34,1667.4) scale(0.57,1)" text-anchor="middle" font-size="16.38" font-weight="bold" fill="#000" stroke="#000" stroke-width="0.75">M</text>
<text transform="translate(823.21,1667.4) scale(0.65,1)" text-anchor="middle" font-size="16.38" font-weight="bold" fill="#000" stroke="#000" stroke-width="0.75">U</text>
<text transform="translate(831.09,1667.4) scale(0.85,1)" text-anchor="middle" font-size="16.38" font-weight="bold" fill="#000" stroke="#000" stroke-width="0.75">8</text>
<text transform="translate(838.96,1667.4) scale(0.85,1)" text-anchor="middle" font-size="16.38" font-weight="bold" fill="#000" stroke="#000" stroke-width="0.75">0</text>
<polygon points="848.74,1655.97 848.74,1667.4 846.66,1667.4 846.66,1658.45 844.41,1660.04 843.92,1658.26 846.97,1655.97" fill="#000"/>
<text transform="translate(854.71,1667.4) scale(0.85,1)" text-anchor="middle" font-size="16.38" font-weight="bold" fill="#000" stroke="#000" stroke-width="0.75">8</text>
<text transform="translate(862.59,1667.4) scale(0.85,1)" text-anchor="middle" font-size="16.38" font-weight="bold" fill="#000" stroke="#000" stroke-width="0.75">5</text>
<text transform="translate(870.46,1667.4) scale(0.85,1)" text-anchor="middle" font-size="16.38" font-weight="bold" fill="#000" stroke="#000" stroke-width="0.75">7</text>
<rect x="871.3" y="1671.8" width="38.2" height="3.3" fill="none" stroke="#000" stroke-width="1.3"/>
<polygon points="811.3,1675 969.5,1675.33 969.38,1732.33 811.18,1732" fill="none" stroke="#000" stroke-width="1.5" stroke-linejoin="miter"/>
<rect x="815.5" y="1678.8" width="18.8" height="18.7" fill="none" stroke="#000" stroke-width="1.4"/>
<polygon points="826.64,1682.43 826.64,1694.05 824.92,1694.05 824.92,1684.47 822.54,1686.22 822.13,1684.75 825.18,1682.43" fill="#000"/>
<rect x="834.3" y="1678.8" width="18.7" height="18.7" fill="none" stroke="#000" stroke-width="1.4"/>
<text transform="translate(843.65,1694.05) scale(0.91,1)" text-anchor="middle" font-size="16.67" fill="#000" stroke="#000" stroke-width="0.8">2</text>
<rect x="853" y="1678.8" width="18.8" height="18.7" fill="none" stroke="#000" stroke-width="1.4"/>
<text transform="translate(862.4,1694.05) scale(0.91,1)" text-anchor="middle" font-size="16.67" fill="#000" stroke="#000" stroke-width="0.8">3</text>
<rect x="909.3" y="1678.8" width="18.7" height="18.7" fill="none" stroke="#000" stroke-width="1.4"/>
<text transform="translate(918.65,1694.05) scale(0.91,1)" text-anchor="middle" font-size="16.67" fill="#000" stroke="#000" stroke-width="0.8">4</text>
<rect x="928" y="1678.8" width="18.8" height="18.7" fill="none" stroke="#000" stroke-width="1.4"/>
<text transform="translate(937.4,1694.05) scale(0.91,1)" text-anchor="middle" font-size="16.67" fill="#000" stroke="#000" stroke-width="0.8">5</text>
<rect x="946.8" y="1678.8" width="18.2" height="18.7" fill="none" stroke="#000" stroke-width="1.4"/>
<text transform="translate(955.9,1694.05) scale(0.91,1)" text-anchor="middle" font-size="16.67" fill="#000" stroke="#000" stroke-width="0.8">6</text>
<rect x="815.5" y="1700.8" width="18.8" height="19.7" fill="none" stroke="#000" stroke-width="1.4"/>
<text transform="translate(824.9,1716.55) scale(0.91,1)" text-anchor="middle" font-size="16.67" fill="#000" stroke="#000" stroke-width="0.8">7</text>
<rect x="834.3" y="1700.8" width="18.7" height="19.7" fill="none" stroke="#000" stroke-width="1.4"/>
<text transform="translate(843.65,1716.55) scale(0.91,1)" text-anchor="middle" font-size="16.67" fill="#000" stroke="#000" stroke-width="0.8">8</text>
<rect x="853" y="1700.8" width="18.8" height="19.7" fill="none" stroke="#000" stroke-width="1.4"/>
<text transform="translate(862.4,1716.55) scale(0.91,1)" text-anchor="middle" font-size="16.67" fill="#000" stroke="#000" stroke-width="0.8">9</text>
<rect x="871.8" y="1700.8" width="18.7" height="19.7" fill="none" stroke="#000" stroke-width="1.4"/>
<polygon points="878.89,1704.93 878.89,1716.55 877.17,1716.55 877.17,1706.97 874.79,1708.72 874.38,1707.25 877.43,1704.93" fill="#000"/>
<text transform="translate(885.15,1716.55) scale(0.79,1)" text-anchor="middle" font-size="16.67" fill="#000" stroke="#000" stroke-width="0.8">0</text>
<rect x="890.5" y="1700.8" width="18.8" height="19.7" fill="none" stroke="#000" stroke-width="1.4"/>
<polygon points="897.64,1704.93 897.64,1716.55 895.92,1716.55 895.92,1706.97 893.54,1708.72 893.13,1707.25 896.18,1704.93" fill="#000"/>
<polygon points="905.64,1704.93 905.64,1716.55 903.92,1716.55 903.92,1706.97 901.54,1708.72 901.13,1707.25 904.18,1704.93" fill="#000"/>
<rect x="909.3" y="1700.8" width="18.7" height="19.7" fill="none" stroke="#000" stroke-width="1.4"/>
<polygon points="916.39,1704.93 916.39,1716.55 914.67,1716.55 914.67,1706.97 912.29,1708.72 911.88,1707.25 914.93,1704.93" fill="#000"/>
<text transform="translate(922.65,1716.55) scale(0.79,1)" text-anchor="middle" font-size="16.67" fill="#000" stroke="#000" stroke-width="0.8">2</text>
<rect x="928" y="1700.8" width="18.8" height="19.7" fill="none" stroke="#000" stroke-width="1.4"/>
<polygon points="935.14,1704.93 935.14,1716.55 933.42,1716.55 933.42,1706.97 931.04,1708.72 930.63,1707.25 933.68,1704.93" fill="#000"/>
<text transform="translate(941.4,1716.55) scale(0.79,1)" text-anchor="middle" font-size="16.67" fill="#000" stroke="#000" stroke-width="0.8">3</text>
<rect x="946.8" y="1700.8" width="18.2" height="19.7" fill="none" stroke="#000" stroke-width="1.4"/>
<polygon points="953.64,1704.93 953.64,1716.55 951.92,1716.55 951.92,1706.97 949.54,1708.72 949.13,1707.25 952.18,1704.93" fill="#000"/>
<text transform="translate(959.9,1716.55) scale(0.79,1)" text-anchor="middle" font-size="16.67" fill="#000" stroke="#000" stroke-width="0.8">4</text>
<path d="M882.5,1700.8 L882.5,1694.5 L898.3,1694.5 L898.3,1700.8" fill="none" stroke="#000" stroke-width="1.3" stroke-linejoin="round" stroke-linecap="round"/>
<path d="M815.5,1722.5 L965,1722.8 L956.3,1728.3 L825,1728 Z" fill="none" stroke="#000" stroke-width="1.3" stroke-linejoin="round" stroke-linecap="round"/>
<polygon points="991.8,1661.8 1018.8,1661.86 1018.74,1688.06 991.74,1688" fill="none" stroke="#000" stroke-width="1.5" stroke-linejoin="miter"/>
<rect x="995.8" y="1665.5" width="19.2" height="18.8" fill="none" stroke="#000" stroke-width="1.4"/>
<polygon points="1007.14,1669.18 1007.14,1680.8 1005.42,1680.8 1005.42,1671.22 1003.04,1672.97 1002.63,1671.5 1005.68,1669.18" fill="#000"/>
<text x="274.5" y="1773.3" font-size="16.3" font-weight="bold" textLength="288" lengthAdjust="spacingAndGlyphs" fill="#000" transform="rotate(0.12 274.5 1773.3)">Обозначение цветов проводов:</text>
<text x="274.5" y="1793.8" font-size="16.3" font-weight="bold" textLength="765.2" lengthAdjust="spacingAndGlyphs" fill="#000" transform="rotate(0.12 274.5 1793.8)">B:Черный LG:Светло зеленый G:Зеленый L: Синий W:Белый Y:Желтый SB:Голубой</text>
<text x="274.5" y="1814.3" font-size="16.3" font-weight="bold" textLength="865.5" lengthAdjust="spacingAndGlyphs" fill="#000" transform="rotate(0.12 274.5 1814.3)">BR: Коричневый O:Оранжевый GR:Серый R:Красный P:Розовый V:Фиолетовый PU:Бордовый</text>
<circle cx="1380.2" cy="1793.4" r="18.9" fill="none" stroke="#000" stroke-width="1.6"/>
<polygon points="1374.4,1777 1386,1777 1396.7,1795.8 1363.7,1795.8" fill="#000"/>
<path d="M1377.9,1797 L1377.9,1794.5 L1379,1793.6 L1378.7,1791.8 L1380.2,1790.8 L1381.7,1791.8 L1381.4,1793.6 L1382.6,1794.5 L1382.6,1797 Z" fill="#fff"/>
<polygon points="1360.5,1797.3 1399.5,1797.3 1401.8,1805.5 1357.3,1805.5" fill="#000"/>
<line x1="1361.9" y1="1799.2" x2="1360.9" y2="1804" stroke="#fff" stroke-width="0.9"/>
<line x1="1365.45" y1="1799.2" x2="1364.45" y2="1804" stroke="#fff" stroke-width="0.9"/>
<line x1="1369" y1="1799.2" x2="1368" y2="1804" stroke="#fff" stroke-width="0.9"/>
<line x1="1372.55" y1="1799.2" x2="1371.55" y2="1804" stroke="#fff" stroke-width="0.9"/>
<line x1="1376.1" y1="1799.2" x2="1375.1" y2="1804" stroke="#fff" stroke-width="0.9"/>
<line x1="1379.65" y1="1799.2" x2="1378.65" y2="1804" stroke="#fff" stroke-width="0.9"/>
<line x1="1383.2" y1="1799.2" x2="1382.2" y2="1804" stroke="#fff" stroke-width="0.9"/>
<line x1="1386.75" y1="1799.2" x2="1385.75" y2="1804" stroke="#fff" stroke-width="0.9"/>
<line x1="1390.3" y1="1799.2" x2="1389.3" y2="1804" stroke="#fff" stroke-width="0.9"/>
<line x1="1393.85" y1="1799.2" x2="1392.85" y2="1804" stroke="#fff" stroke-width="0.9"/>
<line x1="1397.4" y1="1799.2" x2="1396.4" y2="1804" stroke="#fff" stroke-width="0.9"/>
<polygon points="19,2268.6 40,2268.2 112.5,2265.4 112.5,2266.3 60,2270.2 30,2271.4 19,2270.6" fill="#111"/>
<polygon points="134,2264.4 200,2264.6 269,2264.5 269,2265.4 200,2266.6 150,2267 134,2265.8" fill="#111"/>
<line x1="224" y1="2264" x2="259" y2="2264" stroke="#555" stroke-width="0.8" stroke-linecap="butt"/>
<line x1="290" y1="2265" x2="296" y2="2265" stroke="#333" stroke-width="1.2" stroke-linecap="butt"/>
<line x1="299" y1="2264.6" x2="309" y2="2264.6" stroke="#555" stroke-width="1" stroke-linecap="butt"/>
<line x1="404" y1="2264" x2="432.5" y2="2264" stroke="#888" stroke-width="1.3" stroke-linecap="butt"/>
<line x1="492.5" y1="2264" x2="510" y2="2264" stroke="#888" stroke-width="1.3" stroke-linecap="butt"/>
<line x1="559" y1="2263.8" x2="560" y2="2263.8" stroke="#999" stroke-width="1" stroke-linecap="butt"/>
<line x1="567" y1="2263.8" x2="568" y2="2263.8" stroke="#999" stroke-width="1" stroke-linecap="butt"/>
<line x1="629" y1="2263.3" x2="634" y2="2263.3" stroke="#999" stroke-width="1" stroke-linecap="butt"/>
<line x1="638" y1="2263.6" x2="662.5" y2="2263.6" stroke="#777" stroke-width="1.3" stroke-linecap="butt"/>
<line x1="890" y1="2261.6" x2="895" y2="2261.6" stroke="#999" stroke-width="1.2" stroke-linecap="butt"/>
<line x1="904.5" y1="2261.6" x2="923.5" y2="2261.6" stroke="#888" stroke-width="1.4" stroke-linecap="butt"/>
<line x1="987" y1="2261" x2="988.3" y2="2261" stroke="#aaa" stroke-width="1" stroke-linecap="butt"/>
<line x1="1466" y1="2259" x2="1476" y2="2259" stroke="#bbb" stroke-width="1" stroke-linecap="butt"/>
<line x1="1507.5" y1="2259" x2="1558.5" y2="2259" stroke="#333" stroke-width="1" stroke-linecap="butt"/>
<line x1="1584.5" y1="2259.6" x2="1611" y2="2259.6" stroke="#222" stroke-width="1.8" stroke-linecap="butt"/>
</g>
</svg>
</body></html>
